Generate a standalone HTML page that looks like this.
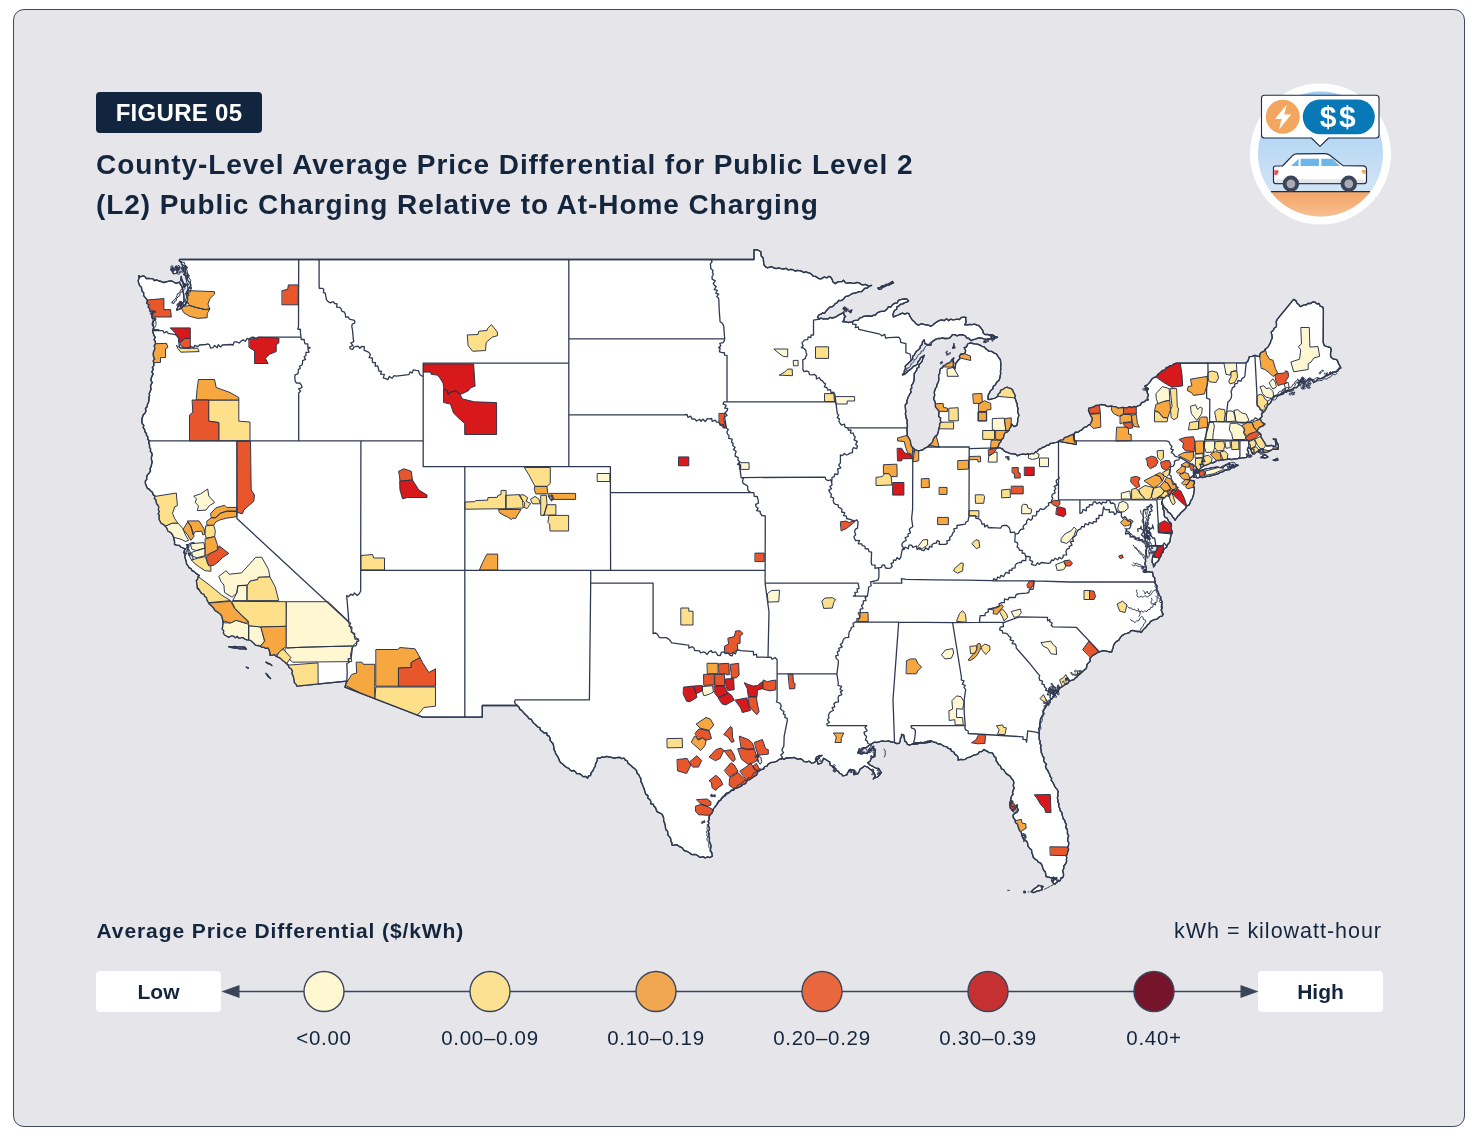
<!DOCTYPE html>
<html lang="en"><head><meta charset="utf-8"><title>Figure 05 - County-Level Average Price Differential</title>
<style>
html,body{margin:0;padding:0;background:#fff;}
body{width:1480px;height:1145px;position:relative;overflow:hidden;font-family:"Liberation Sans",Arial,Helvetica,sans-serif;color:#14263d;}
.card{position:absolute;left:13px;top:8.8px;width:1449.5px;height:1116.2px;border:1.6px solid #3f4b64;border-radius:11px;background:#e6e5ea;box-sizing:content-box;}
.badge{position:absolute;left:96px;top:92px;width:166px;height:41px;background:#11253e;border-radius:4px;color:#fff;font-weight:700;font-size:24px;line-height:42px;text-align:center;letter-spacing:0.3px;}
.title{position:absolute;left:96px;top:144.7px;margin:0;font-size:28px;line-height:40.3px;font-weight:700;color:#14263d;white-space:nowrap;letter-spacing:0.93px;}
.lgt{position:absolute;left:96.5px;top:916.7px;font-size:21px;font-weight:700;line-height:28px;white-space:nowrap;letter-spacing:0.92px;}
.note{position:absolute;left:1174px;top:916.7px;font-size:21.5px;line-height:28px;white-space:nowrap;letter-spacing:0.98px;}
.pill{position:absolute;top:971px;width:125px;height:41px;background:#fff;border-radius:4px;font-weight:700;font-size:21px;line-height:42px;text-align:center;}
.lab{position:absolute;top:1024px;width:160px;margin-left:-80px;text-align:center;font-size:20.5px;line-height:28px;white-space:nowrap;letter-spacing:0.7px;}
svg{position:absolute;left:0;top:0;}
</style></head><body>
<div class="card"></div>
<div class="badge">FIGURE 05</div>
<h1 class="title">County-Level Average Price Differential for Public Level 2<br>(L2) Public Charging Relative to At-Home Charging</h1>
<div class="lgt">Average Price Differential ($/kWh)</div>
<div class="note">kWh = kilowatt-hour</div>
<div class="pill" style="left:96px">Low</div><div class="pill" style="left:1258px">High</div>
<div class="lab" style="left:324px">&lt;0.00</div><div class="lab" style="left:490px">0.00–0.09</div><div class="lab" style="left:656px">0.10–0.19</div><div class="lab" style="left:822px">0.20–0.29</div><div class="lab" style="left:988px">0.30–0.39</div><div class="lab" style="left:1154px">0.40+</div>
<svg width="1480" height="1145" viewBox="0 0 1480 1145">
<g id="map" stroke-linejoin="round" stroke-linecap="round">
<defs><path id="usol" d="M138.7 275.6L140.3 276.9L143.1 275.9L144.8 276.5L146.1 278.5L148.5 278.4L150.2 278.7L152.8 278.7L154.3 280.5L157.0 280.0L158.9 281.0L161.2 281.5L163.2 282.5L166.1 282.0L168.6 281.2L171.8 281.0L174.1 282.3L176.6 283.3L179.5 282.0L180.3 284.2L181.6 285.9L182.4 288.0L182.8 290.7L183.4 293.2L183.8 295.8L183.9 298.3L184.1 299.9L183.8 302.2L182.2 303.1L180.6 304.7L178.6 305.7L177.6 307.4L176.6 310.0L178.9 309.4L181.8 308.2L183.3 305.9L185.9 304.3L186.7 301.6L187.6 299.6L187.5 296.9L186.5 294.5L186.9 291.9L188.0 289.3L189.5 287.5L190.7 285.4L190.4 283.3L189.1 282.1L187.6 280.2L187.0 277.6L185.3 275.6L183.8 274.5L185.5 271.2L185.6 268.2L184.9 266.0L181.8 264.7L181.3 262.4L179.3 260.8L179.5 259.5L754.0 259.5L754.0 249.7L755.9 249.9L758.2 250.2L760.9 251.7L761.0 253.8L761.2 256.1L763.1 257.7L763.4 259.6L763.6 262.1L763.8 264.5L765.5 266.8L767.7 267.9L769.7 267.0L772.0 266.7L774.0 268.0L776.3 268.6L778.6 267.9L781.1 268.6L783.3 269.0L786.1 268.3L788.2 270.0L790.4 269.3L793.0 269.7L794.9 271.0L797.0 270.5L799.4 270.6L801.4 271.0L803.6 272.5L806.1 271.9L807.7 272.6L810.0 273.2L811.8 274.5L813.3 276.3L815.5 276.4L817.7 277.9L819.6 278.9L822.0 278.5L824.1 276.9L826.8 277.9L828.9 276.3L830.9 277.4L832.2 279.6L833.0 282.0L835.2 283.6L837.4 282.1L839.4 281.6L841.9 281.7L843.5 280.2L845.6 282.8L847.7 283.2L849.8 282.6L852.4 283.3L854.5 283.3L857.1 282.3L859.1 282.8L861.2 284.5L863.3 284.9L865.4 284.4L867.8 285.6L869.5 285.8L871.6 285.4L869.0 286.4L867.2 288.0L864.6 288.3L863.3 290.1L861.8 291.5L859.3 291.7L856.7 292.7L855.3 293.0L852.7 293.4L850.4 294.8L848.7 295.8L846.2 296.3L844.6 297.6L843.0 299.7L840.9 300.6L838.7 300.5L836.9 302.8L835.2 303.5L834.3 305.1L832.2 306.8L830.4 306.8L828.3 308.5L827.3 309.7L825.8 311.3L824.5 313.3L822.5 313.0L820.8 314.2L818.8 315.0L817.5 317.0L819.2 319.1L821.1 318.2L823.7 319.1L825.8 318.7L827.9 319.1L829.9 317.4L832.5 318.2L834.4 317.3L836.7 316.4L838.3 315.2L841.0 313.9L843.5 312.6L844.0 315.1L845.6 316.5L844.2 317.7L844.0 320.4L842.5 321.7L844.3 321.9L846.5 321.9L848.1 322.5L850.3 322.2L852.5 322.2L853.6 320.6L855.7 320.4L857.9 320.2L859.9 317.9L861.4 317.7L863.3 316.5L865.4 316.1L867.8 315.9L869.9 316.0L871.5 316.3L873.7 315.2L875.5 315.1L877.1 313.0L878.8 312.2L881.0 311.3L883.1 311.3L885.1 310.8L887.1 309.0L888.5 306.7L890.9 307.0L892.4 304.8L894.4 303.4L897.3 302.9L898.3 300.4L900.7 299.6L902.6 299.2L905.1 298.9L907.0 299.1L908.6 300.9L906.8 302.2L904.6 302.6L902.8 303.9L900.5 304.2L898.7 306.1L896.9 306.9L896.6 309.3L894.5 310.5L893.5 312.6L892.9 315.1L893.5 317.0L895.8 315.8L898.3 315.0L900.7 313.9L902.5 313.1L904.8 314.2L907.3 313.1L909.1 313.9L909.7 315.9L910.9 317.9L912.4 320.1L914.3 321.7L916.3 324.2L918.5 325.2L921.1 323.8L923.1 324.1L925.7 324.8L928.2 325.0L930.9 326.3L933.2 324.8L935.1 323.0L937.3 321.6L939.6 320.4L942.4 319.8L944.1 320.8L946.5 318.8L948.6 320.6L950.6 319.2L952.9 319.9L954.8 319.6L957.4 319.1L959.3 319.6L961.1 317.7L963.9 317.1L965.9 317.3L965.7 319.7L966.1 322.1L964.8 324.8L967.6 324.9L969.4 324.4L972.1 324.7L974.6 324.2L976.8 325.1L978.8 325.5L980.1 327.0L981.5 328.8L982.9 330.7L983.2 333.1L985.0 334.6L987.6 334.3L989.1 335.1L991.0 335.8L993.6 336.3L995.4 337.2L994.4 339.0L992.7 338.9L990.5 339.2L988.5 338.8L986.2 339.3L983.9 338.8L981.7 338.1L979.8 338.0L977.3 338.2L975.5 339.2L973.3 339.6L970.9 340.6L969.1 338.5L966.7 338.0L965.3 335.9L963.2 335.0L961.0 334.6L959.3 334.8L957.1 335.8L954.8 334.6L952.5 334.7L951.1 336.5L949.0 338.4L946.5 338.5L944.8 338.5L942.2 337.9L940.3 338.5L938.2 338.5L935.4 339.4L933.0 341.1L931.5 342.5L930.9 345.0L928.6 345.0L926.5 344.1L924.7 343.7L924.3 339.8L922.5 341.6L922.0 344.5L920.3 346.2L920.0 348.2L918.0 350.1L916.3 351.4L915.3 352.9L914.3 355.1L912.6 356.2L912.7 359.0L911.1 360.5L909.1 362.5L907.0 364.4L905.2 366.1L905.6 368.4L904.4 370.5L904.1 373.0L902.4 374.8L904.7 374.3L906.9 372.6L908.0 370.9L909.7 369.9L912.0 368.1L913.3 366.3L915.3 365.7L917.4 364.2L918.0 361.5L919.4 360.5L920.4 357.9L922.6 356.6L924.3 355.3L923.4 357.5L922.6 359.2L922.2 361.3L920.5 363.1L918.9 364.8L918.9 367.2L916.9 368.3L916.7 370.1L915.3 372.2L914.3 373.5L914.2 375.5L914.2 377.3L914.1 380.0L913.5 382.1L912.8 383.8L911.4 385.4L911.8 388.0L910.4 389.4L911.1 392.1L909.8 393.9L909.1 395.5L908.2 396.9L907.4 399.2L906.7 401.3L907.1 403.0L905.3 404.7L905.3 407.1L905.5 409.2L905.8 411.8L905.3 413.9L905.9 415.8L906.2 418.4L907.3 420.4L907.0 422.7L907.5 425.6L907.0 427.9L906.9 430.4L907.3 433.2L907.0 435.6L908.4 437.2L909.5 439.3L910.4 441.3L910.7 443.9L911.1 445.9L912.8 447.8L914.8 449.6L917.4 450.6L919.8 450.7L922.6 449.9L924.5 448.4L927.4 447.0L928.8 445.6L930.5 444.1L932.2 442.5L933.0 440.8L933.6 438.7L935.1 436.6L937.3 434.7L937.9 433.2L938.6 430.4L938.8 428.1L939.9 426.0L939.5 424.6L940.8 421.9L940.3 420.1L940.7 418.0L938.6 416.4L938.8 413.7L939.1 411.4L937.8 409.7L936.1 407.7L935.4 406.2L935.5 403.8L934.7 400.9L933.6 399.4L934.0 397.2L934.7 395.2L934.2 392.2L934.9 390.3L935.4 388.5L936.6 386.8L937.0 384.3L938.2 382.5L938.8 379.9L938.7 378.1L938.6 375.1L939.7 373.4L939.7 370.9L940.6 368.6L942.2 367.9L943.4 365.7L945.7 365.0L946.6 363.6L949.0 363.1L950.8 361.7L951.8 359.8L953.8 357.9L953.1 360.1L953.8 362.9L953.4 365.0L952.8 367.0L954.8 368.8L955.3 366.1L955.9 363.1L958.0 360.5L959.8 358.7L959.4 356.1L961.1 354.0L963.1 354.2L965.3 352.7L965.6 350.3L964.2 347.6L966.6 346.9L967.6 344.0L970.5 342.9L972.9 343.5L974.8 343.8L977.3 344.1L979.9 345.1L981.9 346.3L984.3 346.9L985.6 348.6L987.3 349.7L989.2 351.4L991.6 351.4L994.4 353.1L996.5 354.0L997.8 356.1L999.0 358.0L1000.4 359.6L1000.6 361.8L1000.9 364.7L1000.6 367.0L1000.8 369.3L1000.4 371.2L1000.7 373.3L1000.3 375.2L1000.0 377.3L999.3 379.8L997.9 381.2L996.5 382.5L995.5 384.7L993.4 386.1L992.7 389.0L990.6 390.6L989.3 393.1L988.1 395.5L988.1 399.4L990.1 399.5L992.4 398.7L994.7 398.3L996.5 397.3L997.9 396.1L998.3 394.1L1000.2 392.6L1000.6 390.3L1002.8 389.5L1004.8 388.0L1007.3 387.2L1009.0 388.2L1011.2 388.7L1012.7 390.3L1013.3 392.3L1014.5 393.9L1015.1 395.6L1014.8 397.9L1015.9 400.3L1016.2 401.9L1017.2 403.7L1017.3 406.6L1018.1 408.4L1017.6 410.9L1017.9 412.7L1018.9 414.9L1018.4 416.9L1017.7 418.9L1017.7 421.4L1016.9 425.3L1014.2 426.6L1011.5 424.0L1011.1 426.6L1009.7 428.1L1009.0 430.4L1007.3 432.0L1004.8 433.0L1003.9 435.2L1003.3 438.2L1001.4 439.4L1000.6 442.1L999.0 443.4L998.5 445.9L997.3 447.8L999.8 447.9L1002.7 449.1L1003.9 450.8L1005.8 451.9L1007.9 452.5L1010.3 453.6L1012.7 453.8L1015.4 454.1L1017.3 455.8L1019.2 454.9L1021.1 454.4L1023.5 454.1L1025.4 454.5L1027.7 453.8L1029.7 454.4L1031.9 453.5L1033.9 453.8L1035.5 451.9L1037.2 451.4L1038.7 449.3L1041.1 448.6L1042.7 447.3L1044.7 446.8L1046.9 445.2L1048.7 445.3L1050.5 443.3L1052.7 443.4L1054.2 442.7L1056.9 442.4L1058.5 441.3L1060.5 440.1L1063.2 439.9L1064.5 437.6L1067.2 436.9L1069.8 435.6L1071.7 434.9L1074.3 433.8L1075.4 432.2L1078.1 432.3L1080.1 430.6L1081.5 430.2L1083.0 428.5L1084.6 427.2L1087.0 426.6L1088.5 424.9L1090.2 424.4L1091.2 422.2L1092.2 420.6L1092.2 418.0L1090.6 415.6L1089.7 413.1L1088.5 410.6L1088.9 408.2L1091.6 407.6L1093.8 406.9L1095.9 405.5L1098.4 405.3L1100.9 404.5L1102.5 404.8L1105.1 404.9L1106.5 406.3L1109.1 406.5L1110.9 405.8L1113.1 406.6L1115.6 406.7L1118.0 408.1L1120.3 407.9L1122.4 407.5L1124.8 407.6L1126.9 407.8L1129.8 406.7L1131.7 407.6L1133.9 406.5L1136.0 407.0L1138.0 405.8L1140.3 405.1L1141.6 402.6L1144.2 401.9L1145.9 400.2L1148.4 399.9L1147.2 398.0L1148.5 395.2L1147.3 392.9L1147.0 390.7L1148.4 389.0L1146.5 387.3L1144.6 386.4L1147.3 384.9L1149.0 383.1L1150.5 381.2L1151.9 379.0L1153.7 377.7L1155.9 376.9L1157.2 375.5L1158.8 373.5L1160.6 372.5L1162.4 370.5L1164.8 370.2L1166.3 367.7L1168.1 367.0L1169.9 365.8L1172.2 365.5L1173.8 363.9L1176.6 363.2L1178.6 363.1L1207.9 363.1L1246.2 362.8L1247.8 361.3L1248.6 359.2L1249.3 356.6L1252.1 356.3L1254.9 355.3L1257.4 356.1L1259.7 356.6L1259.8 354.5L1260.8 352.7L1263.9 351.4L1265.1 349.2L1266.5 348.4L1268.1 346.9L1269.1 345.0L1270.5 342.6L1270.8 340.5L1272.2 338.5L1272.1 335.9L1271.6 334.0L1271.2 332.0L1273.3 330.5L1274.1 328.3L1276.4 326.8L1276.5 324.3L1276.2 321.6L1277.4 319.1L1293.6 299.4L1295.8 300.6L1297.2 303.5L1299.0 304.8L1300.3 306.6L1302.2 305.9L1304.2 304.8L1306.5 304.8L1307.8 303.5L1310.7 303.5L1312.2 302.2L1314.7 301.9L1316.8 303.8L1319.0 303.5L1320.2 306.2L1322.8 307.2L1323.4 309.5L1323.2 342.4L1324.2 345.5L1326.3 346.4L1328.1 346.8L1330.5 347.6L1331.3 350.2L1330.6 352.5L1330.5 355.3L1331.2 357.5L1333.6 359.2L1336.7 359.7L1337.9 361.7L1338.6 363.9L1339.8 365.7L1340.9 368.0L1339.0 368.8L1337.8 371.0L1335.7 372.2L1332.8 372.2L1330.8 373.9L1328.4 374.8L1326.1 375.2L1324.6 376.8L1323.2 377.6L1321.1 378.6L1318.0 378.6L1316.5 380.7L1313.8 382.5L1312.3 380.4L1311.0 379.4L1308.6 378.6L1306.8 380.9L1304.5 382.5L1303.6 379.5L1302.4 377.3L1300.9 379.8L1299.3 381.2L1299.1 383.7L1297.9 386.1L1296.5 387.7L1293.8 387.9L1291.9 389.8L1289.9 390.3L1288.1 391.1L1285.6 391.8L1283.8 392.5L1282.6 394.2L1280.0 394.9L1277.4 395.5L1274.8 396.2L1272.8 398.1L1271.9 399.8L1271.2 401.9L1269.2 404.1L1267.0 405.8L1266.5 408.0L1265.0 410.8L1263.3 412.3L1261.4 414.0L1262.2 416.4L1260.3 418.3L1260.8 420.5L1261.8 422.2L1264.9 424.0L1262.8 425.9L1260.8 426.6L1258.7 428.0L1257.7 429.7L1256.6 431.7L1258.7 432.4L1260.8 434.3L1260.9 437.1L1261.9 438.5L1263.3 440.8L1264.4 442.3L1265.4 444.7L1267.0 446.0L1269.0 445.8L1271.1 445.4L1273.5 446.2L1275.3 446.8L1276.1 444.1L1275.5 441.9L1275.3 439.5L1273.2 439.0L1276.4 439.5L1276.4 441.5L1277.6 443.5L1278.4 446.0L1278.0 449.3L1276.0 449.4L1273.7 449.0L1271.2 449.9L1269.5 451.2L1266.7 452.2L1264.5 452.5L1262.8 450.9L1262.8 448.6L1259.8 449.6L1257.6 451.2L1255.7 452.6L1254.5 453.8L1252.4 453.8L1251.6 451.4L1250.3 448.6L1248.3 447.3L1247.3 449.6L1248.6 452.8L1247.9 455.0L1246.6 457.4L1243.6 457.8L1241.6 457.9L1238.7 458.4L1236.5 458.8L1233.8 458.9L1231.6 459.6L1229.5 458.9L1227.6 459.4L1225.4 459.5L1223.0 460.2L1220.8 459.6L1219.1 460.7L1217.1 460.2L1215.2 461.7L1212.9 462.8L1210.6 462.8L1208.8 464.0L1206.5 464.9L1204.6 465.4L1202.9 466.4L1200.8 468.0L1198.3 470.6L1196.4 472.1L1194.2 474.0L1193.1 475.8L1190.5 477.7L1189.0 479.6L1191.4 480.5L1194.2 480.9L1194.5 482.9L1193.3 485.4L1194.2 487.4L1194.4 490.0L1193.9 491.9L1193.6 494.4L1192.9 496.6L1192.1 499.1L1190.8 500.5L1190.1 502.9L1189.1 504.9L1186.5 506.1L1185.8 508.1L1184.5 509.6L1182.6 511.2L1180.6 512.9L1179.6 514.6L1177.7 516.3L1176.2 518.5L1175.0 520.3L1174.0 518.3L1172.6 517.0L1171.8 515.2L1170.2 513.3L1168.1 512.1L1167.1 510.0L1165.2 508.0L1162.9 506.8L1162.7 504.3L1161.9 501.7L1161.7 504.0L1163.9 506.2L1162.6 508.3L1164.0 510.7L1164.2 512.6L1164.2 515.5L1165.0 517.2L1167.2 518.3L1168.2 520.6L1169.8 522.2L1171.3 523.7L1171.5 525.9L1170.9 528.1L1171.7 530.4L1172.3 532.7L1171.1 534.9L1170.6 536.8L1170.3 539.0L1169.8 542.0L1168.4 543.6L1167.3 545.1L1166.6 547.3L1164.2 548.8L1163.1 550.6L1163.2 552.3L1161.4 553.6L1160.9 556.1L1159.7 557.9L1158.7 560.3L1157.4 561.7L1155.4 563.2L1154.9 565.0L1153.6 566.9L1153.4 564.6L1152.1 562.5L1152.2 560.0L1152.6 557.3L1153.6 554.8L1154.7 552.6L1156.1 551.2L1156.9 549.2L1157.7 547.0L1154.6 545.7L1152.5 545.8L1149.9 545.8L1147.3 547.0L1146.4 549.1L1146.0 552.4L1146.3 554.8L1145.8 556.9L1145.3 559.4L1145.7 561.3L1144.6 563.8L1145.6 565.6L1146.3 567.8L1146.3 570.3L1143.2 571.6L1145.3 572.3L1147.9 571.7L1150.3 572.2L1152.5 572.1L1152.9 574.5L1153.2 576.5L1154.8 578.0L1154.7 580.2L1155.2 582.0L1155.5 584.0L1157.2 586.2L1156.5 588.9L1157.7 591.0L1158.7 593.4L1159.0 595.1L1160.9 597.1L1160.6 599.2L1161.9 601.4L1162.0 603.5L1161.7 605.9L1162.3 607.6L1161.3 609.5L1161.9 612.0L1163.2 614.1L1162.3 616.1L1160.4 616.3L1158.2 617.9L1156.9 619.2L1154.8 619.5L1152.5 620.3L1150.6 621.3L1149.4 623.5L1147.7 624.6L1146.4 626.7L1144.5 628.4L1143.2 629.9L1141.1 632.5L1139.2 631.4L1137.1 631.5L1134.5 630.8L1132.8 630.4L1130.7 630.8L1129.3 632.6L1126.9 633.3L1125.2 633.7L1122.8 635.1L1121.3 636.3L1120.1 637.9L1118.6 640.4L1116.5 641.4L1115.1 642.8L1113.6 645.2L1113.2 647.4L1112.3 649.7L1111.8 651.9L1109.2 652.0L1106.8 651.1L1104.7 650.6L1101.7 651.0L1099.5 651.9L1096.8 652.9L1095.2 654.2L1092.7 655.4L1091.2 657.1L1089.8 658.5L1090.4 661.0L1088.4 662.9L1087.0 664.5L1086.7 667.0L1086.0 668.7L1084.0 670.1L1083.2 671.1L1081.3 672.8L1079.7 673.9L1078.1 675.2L1076.8 677.2L1075.3 678.0L1073.9 679.6L1071.4 680.4L1068.7 681.1L1068.2 683.2L1065.9 684.2L1063.8 685.4L1062.0 686.8L1060.0 687.8L1058.5 689.9L1057.7 692.3L1055.8 693.3L1054.1 695.2L1052.9 697.4L1051.6 699.0L1049.9 700.0L1050.0 702.7L1047.2 703.8L1046.5 705.7L1045.4 707.6L1044.3 709.2L1043.2 711.4L1044.0 713.9L1042.3 715.6L1041.4 717.4L1040.4 719.5L1040.2 721.8L1039.7 724.0L1039.9 726.6L1038.7 728.8L1039.2 730.8L1039.1 733.2L1039.2 735.4L1039.1 737.4L1039.2 739.5L1040.2 741.2L1039.9 743.6L1041.2 745.4L1040.5 747.7L1041.2 750.0L1041.2 752.4L1042.2 754.2L1042.6 756.2L1044.0 757.8L1043.6 760.7L1044.5 762.3L1046.5 764.3L1045.4 766.3L1046.3 768.8L1047.8 770.5L1048.5 772.3L1049.5 773.8L1050.2 776.5L1051.7 778.1L1051.1 780.2L1052.7 782.2L1053.7 784.0L1054.7 786.4L1055.6 787.6L1057.3 789.7L1058.3 791.7L1057.7 793.6L1057.9 796.2L1057.3 797.9L1058.0 800.1L1057.9 802.1L1059.0 803.7L1058.6 806.2L1059.7 808.2L1060.2 810.7L1061.8 812.4L1062.1 814.6L1062.6 816.4L1063.2 818.8L1064.8 820.5L1065.2 822.7L1066.4 824.3L1065.7 827.7L1067.2 829.3L1067.5 831.3L1067.4 833.6L1068.7 835.8L1067.7 838.3L1067.7 840.8L1068.7 842.4L1068.6 844.9L1067.8 847.4L1068.6 849.2L1067.7 851.7L1067.3 853.8L1066.4 855.8L1066.7 857.9L1066.4 859.3L1066.6 861.7L1065.5 864.0L1063.8 866.0L1063.8 868.5L1062.6 870.7L1063.3 872.7L1063.6 875.1L1062.8 877.5L1060.9 878.0L1060.3 880.5L1058.5 881.0L1056.3 882.6L1055.0 884.2L1052.5 882.5L1053.6 880.1L1056.0 878.5L1053.5 877.4L1051.0 877.9L1048.6 877.1L1046.1 876.6L1045.7 874.4L1045.4 872.0L1043.7 870.2L1042.8 868.2L1042.2 865.6L1040.7 863.1L1038.3 862.1L1037.4 860.5L1035.0 859.1L1033.2 857.2L1032.6 854.7L1031.8 852.6L1031.5 849.7L1029.7 848.5L1027.8 845.8L1027.7 843.5L1026.9 841.6L1025.5 840.4L1023.6 839.3L1022.5 837.1L1021.7 835.0L1021.3 832.4L1019.6 830.6L1018.7 828.0L1018.0 826.2L1017.6 824.1L1015.4 822.5L1015.2 820.2L1013.3 817.6L1013.1 815.1L1015.2 813.3L1017.2 812.1L1018.3 809.9L1017.0 807.2L1017.3 804.7L1016.1 806.8L1015.0 809.1L1013.1 811.2L1011.6 809.4L1010.2 808.0L1010.0 806.0L1009.7 803.2L1010.6 800.8L1011.0 798.2L1011.6 795.9L1013.0 794.5L1012.5 792.3L1013.3 790.1L1014.2 787.9L1013.2 785.6L1013.9 782.4L1013.1 780.1L1011.3 778.2L1010.1 776.2L1008.5 775.1L1006.2 773.6L1004.8 771.5L1003.6 769.6L1001.4 768.8L1000.5 766.1L998.5 764.5L997.6 762.6L996.0 760.5L996.3 758.2L994.1 756.2L993.3 754.2L992.0 752.7L989.1 752.7L987.9 751.7L985.7 750.6L984.0 749.5L981.8 751.5L979.6 751.7L977.7 754.2L975.3 754.8L973.4 755.2L971.4 756.4L969.6 757.1L966.7 758.0L965.3 759.4L963.2 759.7L960.6 759.3L958.0 760.1L958.4 757.8L956.9 755.5L955.0 754.4L953.6 751.9L951.4 751.0L950.7 749.0L948.2 748.3L946.7 746.7L944.3 746.4L942.5 745.3L940.3 743.8L938.2 744.1L936.1 742.5L934.2 742.4L932.0 741.2L929.5 740.9L927.7 742.4L925.1 742.0L922.5 742.9L920.5 743.1L918.0 742.7L915.4 744.1L913.2 744.3L915.6 743.7L917.3 744.2L919.2 742.8L921.8 742.8L923.9 743.1L925.9 742.8L927.5 741.1L930.1 742.3L931.7 741.2L929.3 740.8L927.8 742.6L925.4 742.5L922.9 742.7L920.8 742.4L918.5 743.5L916.3 742.6L914.4 743.2L912.7 743.8L910.0 745.0L907.3 744.4L906.5 742.2L904.6 741.2L904.6 739.3L904.0 737.0L903.7 734.9L901.5 734.5L901.5 736.7L900.4 738.6L900.2 741.2L899.2 743.3L896.2 743.5L893.7 742.2L891.3 742.1L888.6 740.9L886.6 741.3L884.0 741.2L881.7 741.0L879.0 741.8L876.8 742.5L874.2 742.2L872.4 743.4L870.5 744.5L868.8 745.5L866.5 747.5L863.0 748.0L861.6 749.9L859.0 750.5L857.8 753.0L861.0 754.0L864.0 752.5L867.0 753.5L869.5 750.5L872.0 748.5L873.5 746.8L873.7 749.0L875.3 751.0L874.8 753.5L874.2 756.3L871.0 758.5L870.3 760.9L867.7 762.8L870.0 765.0L871.8 765.8L874.2 767.2L876.1 768.3L878.6 768.3L880.1 770.8L881.3 772.6L879.4 775.0L877.5 777.0L875.1 777.7L873.2 779.0L875.3 775.8L874.5 773.6L873.5 772.0L872.0 770.4L870.0 769.1L867.7 767.2L864.5 766.0L862.0 767.9L860.0 769.3L859.0 771.8L858.0 773.7L855.9 774.4L853.7 774.7L853.8 772.6L854.7 770.4L852.5 770.0L850.4 769.3L849.2 770.6L847.5 773.0L847.0 774.7L845.2 775.3L842.8 775.8L841.6 774.0L839.6 773.4L838.4 771.4L836.3 770.4L835.7 768.5L833.1 767.3L832.0 766.0L830.0 765.0L829.8 762.1L827.7 760.7L825.3 759.2L823.5 758.3L822.7 760.6L821.5 763.0L818.0 764.0L817.4 761.2L815.5 759.5L816.4 757.3L818.5 756.0L822.0 755.5L819.6 756.7L818.7 758.4L816.5 760.0L815.5 761.6L813.6 762.8L811.5 763.1L809.1 761.2L807.0 761.8L804.3 761.7L802.5 759.9L800.5 758.6L798.5 759.1L796.0 758.5L794.0 757.4L792.4 757.8L790.3 757.7L787.9 758.0L785.8 757.9L784.5 759.4L781.9 758.4L780.0 759.0L778.3 759.9L776.6 761.4L773.8 762.2L771.4 762.4L769.6 763.3L767.9 764.4L767.0 766.2L764.6 766.6L763.7 768.9L761.3 769.7L759.1 770.8L757.7 772.1L756.6 775.1L754.5 776.1L753.0 777.3L750.9 778.8L748.8 779.9L747.3 780.2L746.1 782.7L744.8 784.0L742.4 784.7L741.5 786.1L739.5 787.0L737.4 787.9L734.9 788.3L733.5 790.4L731.6 790.4L729.5 792.0L728.0 793.0L726.1 793.4L724.6 795.5L723.3 796.8L721.8 798.5L720.6 800.4L718.7 800.8L717.9 803.0L716.3 805.3L715.1 806.9L713.5 808.6L712.8 811.1L712.0 813.1L710.1 814.7L709.2 817.0L709.3 819.4L708.2 821.5L708.8 823.1L708.2 825.5L709.3 827.7L709.5 829.4L708.2 831.3L709.1 833.9L708.5 835.4L709.5 837.8L709.3 839.7L709.5 841.8L710.4 843.7L711.1 846.1L710.6 848.4L710.3 850.3L711.8 852.5L711.9 854.1L712.4 856.2L709.9 857.5L707.8 856.9L705.1 857.8L703.0 856.7L700.6 857.4L699.1 856.8L696.8 855.0L695.1 854.4L692.2 854.7L690.6 853.6L688.9 852.5L687.1 851.4L684.9 851.0L683.4 849.7L682.0 847.7L679.5 846.7L678.1 845.6L676.4 844.6L673.6 845.3L671.8 844.8L672.0 843.0L670.8 840.9L670.7 838.8L669.9 837.1L668.1 835.4L667.7 833.2L667.6 831.3L665.8 829.5L665.4 827.2L665.3 825.2L664.4 822.7L663.6 820.5L663.7 818.3L663.1 816.4L661.8 814.0L659.5 812.8L657.3 811.9L656.2 809.9L655.5 807.5L653.9 806.3L653.3 804.2L650.8 803.8L650.8 801.3L649.8 799.5L647.9 798.2L647.9 795.6L645.7 794.1L644.9 791.5L644.4 789.7L643.5 787.3L642.7 785.3L641.9 783.1L640.6 781.2L641.0 778.6L639.8 777.2L639.0 774.9L637.1 773.3L636.5 770.5L634.4 768.4L632.8 767.5L631.3 765.7L629.6 764.5L627.8 762.9L627.3 761.0L625.1 759.9L624.0 758.1L621.7 758.6L620.1 757.5L617.7 757.3L615.5 758.0L613.6 758.2L611.5 757.3L609.3 757.0L606.4 756.4L604.2 757.3L602.1 756.9L599.8 758.2L597.3 758.1L597.3 760.7L596.4 762.0L595.4 764.8L595.1 766.5L593.8 768.4L592.8 770.9L591.1 772.8L590.5 775.5L588.5 775.9L587.6 778.3L585.9 776.3L583.0 776.6L581.5 775.0L579.2 773.6L576.7 773.6L575.5 771.8L573.8 770.5L571.7 771.0L569.9 769.7L568.8 768.3L566.6 767.5L564.4 765.8L563.0 764.3L561.5 763.3L559.7 761.5L559.1 759.5L558.2 757.4L557.2 755.8L555.6 753.6L555.3 751.6L554.2 750.2L553.8 747.6L553.5 745.4L552.8 743.2L551.4 741.9L550.1 740.3L550.1 738.3L549.1 736.1L547.1 735.3L546.8 733.0L543.8 732.9L542.3 731.2L540.4 730.1L539.9 727.6L538.2 727.2L536.6 725.7L535.1 724.2L533.4 723.0L532.1 720.9L531.4 719.4L528.9 718.6L527.8 716.8L526.2 715.3L524.6 713.7L523.2 712.1L521.7 710.3L519.8 709.3L519.1 707.2L517.2 705.5L482.3 705.5L482.3 717.2L422.7 717.2L344.9 687.1L346.8 681.2L296.8 686.1L296.0 684.1L294.3 682.4L294.2 680.2L293.7 677.8L293.0 675.4L292.0 673.5L292.5 671.1L291.0 668.7L288.9 667.3L288.3 665.3L286.4 663.5L284.8 662.0L282.7 660.5L280.6 658.4L278.7 657.4L275.9 656.1L274.4 654.5L272.1 655.4L270.2 655.3L269.8 651.9L269.1 650.1L268.1 648.0L266.0 648.3L263.8 647.4L261.9 647.2L259.8 645.9L258.2 645.5L255.6 645.4L254.2 643.5L252.9 642.5L251.5 641.0L249.1 639.9L247.1 639.9L245.0 639.2L243.1 637.6L241.5 637.7L238.9 638.2L237.2 636.3L235.4 637.7L233.5 636.1L231.4 635.8L228.9 637.2L227.1 636.3L224.7 635.0L223.4 633.0L223.8 630.7L222.3 629.1L222.6 626.8L223.0 624.7L223.2 622.9L222.8 620.7L222.3 618.2L221.8 616.4L220.6 614.2L218.8 613.0L216.9 611.6L214.7 610.3L213.8 608.3L212.7 607.1L210.9 605.3L209.1 603.8L208.0 601.7L207.1 600.2L206.5 597.6L204.6 596.2L204.1 594.3L201.7 593.5L200.1 591.3L199.5 589.9L197.4 588.4L197.2 585.7L196.8 583.0L196.3 580.7L197.7 579.2L198.2 576.6L199.4 575.5L197.5 574.4L196.0 573.4L194.2 571.6L192.0 570.6L191.1 568.7L189.0 567.7L188.1 565.8L186.5 563.9L186.4 562.0L185.5 559.1L184.9 557.3L185.0 554.7L183.9 552.6L184.5 550.1L185.3 548.8L183.2 548.0L180.7 547.0L179.3 545.4L176.4 545.1L174.5 544.4L174.6 541.6L174.0 539.3L173.4 536.6L172.4 534.5L170.9 532.6L167.9 531.0L167.2 528.9L166.2 527.0L164.8 525.8L163.4 524.3L161.4 523.5L160.1 521.2L159.3 519.8L159.1 517.4L159.5 515.3L158.2 514.0L159.4 511.5L158.4 509.7L158.9 507.2L158.2 505.5L156.7 503.8L156.2 502.0L156.0 499.5L154.4 498.7L154.9 495.9L153.1 494.7L152.6 492.6L150.7 491.0L149.2 489.2L147.4 488.3L146.4 486.1L145.5 483.9L145.3 481.2L146.8 479.3L146.6 477.3L147.4 474.9L149.1 473.2L150.5 471.1L150.0 468.5L151.2 466.7L151.5 464.7L152.2 461.8L151.5 460.0L151.4 457.3L152.2 455.0L151.7 452.7L150.4 451.5L150.6 448.9L149.5 447.3L149.6 444.9L148.7 442.7L149.3 440.8L147.7 439.2L147.8 436.6L146.3 435.1L146.6 433.6L144.9 431.7L144.5 429.2L143.1 427.6L143.9 425.4L142.3 423.7L141.8 421.1L142.0 419.0L142.5 417.0L143.3 414.7L144.9 413.3L146.0 411.0L145.4 408.4L147.2 406.8L147.4 404.5L148.4 402.6L149.0 399.8L148.8 398.0L149.6 395.3L149.2 393.7L150.4 391.1L151.0 389.0L150.5 386.7L151.1 384.3L152.3 382.5L150.9 380.3L151.3 377.9L152.0 376.1L153.1 374.1L151.9 371.9L153.3 369.3L152.4 367.7L153.9 365.5L153.7 363.1L153.3 360.6L154.7 358.9L153.5 356.4L153.3 354.3L153.5 352.0L154.5 350.1L154.9 348.1L154.2 345.9L155.6 343.8L155.2 341.2L154.1 339.7L155.1 337.2L153.9 335.3L153.2 333.1L152.6 330.7L155.1 330.1L156.8 329.8L158.9 330.2L155.6 329.8L153.0 329.4L153.8 327.1L152.4 324.6L152.6 321.7L154.4 320.1L155.7 319.1L152.0 317.8L151.6 313.9L153.1 312.5L155.7 311.8L152.8 310.9L150.1 311.3L149.8 308.7L148.1 306.9L149.0 304.7L146.6 303.2L147.6 300.6L146.0 298.4L144.4 296.6L143.6 295.2L143.7 292.9L141.9 290.8L141.6 288.6L141.4 287.2L139.5 285.4L138.7 282.9L138.2 280.8L139.1 277.9ZM1193.5 477.1L1195.4 477.4L1197.6 477.8L1200.6 477.0L1202.5 477.6L1204.2 477.2L1206.6 476.3L1208.8 476.4L1210.8 475.8L1213.4 474.9L1215.4 474.7L1218.3 473.7L1220.2 472.4L1222.5 471.9L1224.7 470.4L1227.5 469.8L1229.6 469.5L1231.8 467.5L1234.0 467.7L1235.7 466.2L1238.3 465.4L1236.8 464.9L1234.3 465.6L1231.5 466.3L1229.5 467.2L1229.4 465.2L1229.5 462.8L1228.2 463.9L1225.8 465.1L1224.1 466.2L1222.9 467.5L1220.4 467.9L1217.7 467.0L1215.0 467.4L1212.9 467.7L1211.1 467.9L1209.1 468.3L1206.7 468.6L1204.6 469.3L1202.6 469.9L1200.6 470.8L1198.7 471.9L1196.9 473.0L1195.2 474.0ZM1260.8 457.6L1263.2 455.9L1264.9 454.5L1268.0 456.9L1264.9 458.2L1263.0 457.7ZM1273.2 460.2L1275.5 459.4L1277.4 458.4L1278.0 460.2L1275.4 460.7ZM877.9 288.0L880.3 287.4L882.1 285.8L884.2 285.7L886.3 284.4L888.2 284.1L890.4 282.8L892.4 281.5L893.5 282.8L891.1 283.8L889.7 284.8L887.1 285.2L884.8 286.5L882.6 287.1L881.3 288.8L878.9 289.3ZM848.7 311.3L851.8 310.0L850.8 312.6ZM1031.2 891.6L1033.1 889.8L1034.7 888.4L1036.9 887.0L1038.6 885.3L1040.7 885.8L1043.4 886.6L1041.4 887.5L1042.4 889.7L1039.9 890.5L1037.3 890.9L1035.3 891.8L1033.2 892.6ZM1024.0 891.5L1025.2 891.5L1025.2 892.7L1024.0 892.7ZM228.6 646.7L230.7 647.4L233.3 647.8L235.9 648.0L237.9 648.4L239.8 648.9L241.7 648.8L244.3 648.8L246.3 649.3L245.2 647.5L243.4 647.0L241.2 647.2L239.0 646.7L236.8 647.2L235.1 646.3L232.5 646.8L230.8 646.6ZM266.0 662.2L267.8 663.5L270.4 664.1L271.9 665.6L270.2 664.1L268.0 663.2ZM266.0 673.4L267.6 674.9L269.2 677.2L270.6 678.6L268.1 676.5ZM246.3 667.2L248.3 668.2L247.3 667.7ZM181.3 276.3L180.7 280.2L182.4 281.6L183.9 283.8L185.9 285.4L183.8 286.7L183.2 283.8L182.8 281.5L181.6 279.0ZM171.4 268.6L173.8 269.4L176.6 269.9L177.6 272.4L176.0 273.4L173.4 273.7L172.4 271.2ZM175.5 267.3L177.7 268.2L179.7 268.6L177.6 269.9ZM953.8 343.7L953.8 345.6L954.8 347.6L952.8 348.1L953.7 345.7ZM990.2 334.6L993.1 335.1L994.7 336.3L997.5 337.2L995.3 338.2L993.7 337.9L991.3 338.5L991.0 336.5Z"/><clipPath id="us"><use href="#usol"/></clipPath></defs>
<use href="#usol" fill="#fff" stroke="#2f3a52" stroke-width="1.3"/>
<path d="M181.5 262.0L184.5 262.5L184.8 264.5L186.0 266.2L186.0 268.3L187.0 270.0L187.3 271.9L187.8 273.7L189.2 275.3L188.8 277.4L190.0 279.0L190.8 280.7L190.2 282.7L190.3 284.5L190.8 286.3L191.5 288.0L190.6 289.9L191.2 292.2L189.4 293.9L189.5 296.0L188.4 298.2L189.2 300.8L188.0 303.0L185.5 303.5L185.4 301.6L185.4 299.7L186.6 297.9L186.5 296.0L186.3 293.9L186.7 291.9L188.3 290.1L188.0 288.0L187.3 286.1L187.9 283.9L186.5 282.1L186.5 280.0L185.4 278.4L185.9 276.2L184.4 274.7L184.7 272.6L183.5 271.0L183.6 269.1L182.1 267.5L182.8 265.5L181.5 263.9L181.5 262.0ZM172.0 302.8L172.9 300.7L174.8 299.4L176.2 297.6L177.0 295.5L177.7 293.5L179.8 292.5L180.3 290.3L182.0 289.0L184.5 287.0L185.0 288.5L182.5 291.0L181.0 292.3L180.0 293.8L179.7 295.9L178.0 297.0L176.6 298.4L176.3 300.5L174.5 301.6L174.0 303.5L172.0 302.8ZM186.6 544.8L188.2 545.8L188.2 548.1L189.3 550.2L190.5 552.2L190.9 554.5L192.3 556.5L193.1 558.8L192.0 560.5L190.1 557.8L189.5 555.4L188.2 553.4L188.1 551.1L186.8 549.1L187.3 546.9L186.6 544.8ZM186.6 544.8L189.0 544.2L190.9 542.8L194.2 542.4L194.2 543.7L190.9 544.5L188.2 545.8L186.6 544.8ZM1010.9 800.7L1013.1 803.0L1013.6 805.5L1015.3 807.4L1016.1 809.2L1016.1 811.2L1014.6 813.4L1013.1 811.2L1013.6 808.2L1011.9 805.2L1010.8 803.1L1010.9 800.7ZM757.6 757.9L759.2 756.3L761.3 757.9L761.1 759.8L761.9 761.7L760.3 764.4L758.6 762.2L757.8 760.1L757.6 757.9ZM858.0 752.0L860.7 749.8L862.5 748.9L864.5 748.5L866.7 749.3L867.2 752.0L865.6 753.6L863.6 753.2L861.8 754.0L860.2 752.5L858.0 752.0Z" fill="#e6e5ea" stroke="#2f3a52" stroke-width="1"/>
<g clip-path="url(#us)"><path d="M163.5 526.7L172.5 523.1L177.9 523.1L182.8 528.5L185.5 535.0L188.7 540.4L185.5 541.5L181.2 539.3L171.8 536.8L170.2 534.0ZM194.2 496.0L200.7 493.8L207.7 489.0L208.8 496.0L214.7 502.5L209.3 505.7L206.1 510.1L197.4 510.6L198.5 505.7L195.2 502.5L196.3 499.2ZM190.9 543.7L203.9 542.6L205.0 548.0L196.3 550.7L192.0 549.1ZM192.0 552.3L196.3 550.7L205.0 548.0L205.0 555.6L197.4 557.7L193.1 556.6ZM221.6 622.7L230.6 623.0L236.0 620.3L246.9 623.6L248.9 625.0L248.8 641.5L241.6 639.3L230.6 638.1L222.4 634.5ZM248.9 625.7L261.1 627.0L264.5 641.2L259.4 647.6L256.2 647.0L248.8 641.5ZM286.8 601.7L328.1 601.7L347.7 620.3L352.5 633.1L358.6 640.6L352.5 646.0L334.2 646.4L301.0 647.3L286.8 648.0L286.1 646.7ZM286.8 648.0L301.0 647.3L334.2 646.4L352.5 646.0L350.5 654.8L351.8 661.6L292.9 662.2L290.2 660.2L286.1 653.4L284.8 650.0ZM219.1 576.2L225.9 570.8L229.3 574.2L241.5 572.9L249.6 564.1L255.7 557.3L261.8 557.3L268.5 569.5L269.9 576.9L258.4 577.3L257.7 579.6L250.3 581.0L247.5 585.0L238.1 585.7L236.7 593.2L232.0 597.2L224.5 592.5L223.9 585.0L221.1 581.7ZM238.1 585.7L246.9 585.5L246.9 600.6L232.7 600.6L236.7 593.2ZM597.6 473.5L609.9 473.5L609.9 481.5L597.6 481.5ZM774.3 349.0L787.7 349.0L787.7 356.9L783.2 356.4L777.3 352.0ZM793.6 360.4L798.1 360.4L798.1 365.8L793.9 365.8ZM835.3 396.6L854.6 396.6L854.6 401.0L847.2 401.0L847.2 404.0L836.0 404.0ZM739.8 462.7L749.1 462.7L749.1 469.4L739.8 469.4ZM918.0 546.4L923.2 539.7L927.6 539.7L927.6 544.9L922.4 548.6L919.5 549.4ZM992.7 418.6L1004.2 418.1L1006.3 434.2L992.7 429.7ZM989.0 456.2L994.5 452.3L997.1 452.0L997.1 462.1L988.6 462.1ZM1029.0 452.5L1034.0 451.2L1039.1 454.3L1038.4 458.0L1032.4 459.5L1028.7 458.3ZM1039.9 458.0L1048.5 458.0L1048.5 466.6L1039.9 466.6ZM1022.0 505.8L1023.5 504.1L1027.2 504.8L1027.7 507.8L1031.7 509.3L1030.9 513.7L1022.0 513.7ZM1061.4 538.2L1065.1 533.8L1071.1 530.8L1074.1 527.1L1076.3 529.3L1074.1 535.3L1071.1 539.7L1066.6 543.4L1061.4 542.0ZM947.4 368.8L953.4 367.4L958.5 376.3L947.7 376.3ZM1056.1 564.5L1063.6 561.6L1065.8 566.0L1063.6 569.7L1057.6 570.5ZM1011.6 611.4L1020.5 609.1L1021.2 612.8L1018.2 616.6L1014.5 617.3ZM941.7 654.5L945.4 650.0L952.8 648.5L953.6 653.0L951.4 658.2L945.4 658.9ZM1041.3 642.6L1050.9 641.1L1053.2 644.8L1056.1 647.0L1056.6 654.5L1050.9 653.7L1048.0 648.5L1043.5 646.3ZM952.2 700.4L956.6 695.9L961.1 696.7L964.1 701.9L962.6 709.3L956.6 708.6L956.6 717.5L962.6 717.5L963.3 724.9L955.1 724.9L954.8 719.7L949.2 720.5L948.9 710.8L952.2 709.3ZM767.6 593.5L771.4 590.5L779.5 590.2L778.8 601.7L768.4 602.1ZM702.8 686.6L712.6 685.7L713.4 692.0L709.3 694.2L703.9 695.8L702.6 692.0ZM1156.3 393.3L1162.4 386.6L1169.2 388.6L1169.8 400.1L1163.7 401.5L1158.3 404.2L1156.3 398.7ZM1190.8 406.2L1195.6 404.8L1197.6 409.6L1200.3 406.9L1202.3 408.2L1201.7 413.6L1198.9 417.7L1196.9 420.4L1193.5 416.3L1191.5 413.6ZM1224.0 361.4L1236.2 361.3L1236.9 370.3L1231.4 371.7L1230.1 375.1L1226.0 374.4L1225.3 370.3ZM1301.2 327.5L1309.3 327.5L1309.9 347.1L1318.0 346.5L1319.7 356.3L1313.9 358.0L1311.0 362.0L1308.2 363.8L1308.2 369.5L1293.7 371.8L1290.9 362.0L1299.5 359.2L1300.7 349.9L1298.4 346.5L1301.2 344.2ZM1269.5 382.2L1273.0 378.8L1275.3 382.2L1276.5 386.8L1273.0 389.1L1270.7 385.7ZM1260.3 386.8L1263.8 385.7L1266.1 388.6L1269.5 388.0L1273.0 391.4L1274.0 399.2L1266.1 397.2L1262.6 393.7L1261.5 390.3ZM1284.5 383.4L1288.0 382.2L1289.1 386.8L1286.9 393.1ZM1225.7 413.0L1229.0 410.8L1233.3 411.4L1234.9 416.2L1235.5 421.1L1225.7 421.7L1224.4 419.5ZM1234.4 410.3L1237.7 409.7L1242.0 413.0L1246.3 414.1L1249.0 420.6L1244.2 423.3L1237.7 422.7L1236.0 420.6ZM1230.6 423.3L1236.6 423.3L1242.0 426.0L1244.2 429.2L1243.6 433.0L1245.8 436.8L1245.2 439.5L1232.8 439.5L1231.7 433.6L1229.5 430.3ZM1207.9 422.7L1213.3 422.2L1214.4 426.0L1213.3 432.5L1212.7 439.5L1205.7 439.5L1206.2 432.5ZM1204.6 441.2L1214.4 440.9L1214.9 446.6L1213.3 452.0L1206.2 452.5L1204.6 447.7ZM1225.2 441.2L1230.1 440.9L1230.3 447.7L1226.3 448.2ZM1195.4 454.2L1203.0 453.6L1203.0 457.4L1195.4 457.9ZM1205.7 470.9L1213.8 468.8L1221.4 466.6L1223.6 469.3L1213.8 473.7L1206.2 475.3ZM1121.7 493.1L1129.8 490.9L1130.9 499.0L1121.7 499.0ZM1119.5 502.8L1123.3 501.2L1127.7 503.9L1128.2 508.2L1124.4 511.5L1120.1 512.6L1117.9 509.3Z" fill="#fff7d2" stroke="#26314a" stroke-width="0.95"/>
<path d="M176.7 345.5L180.8 348.2L197.7 348.2L199.1 351.6L180.8 352.2L178.1 348.8ZM208.8 400.0L238.8 400.0L238.8 421.2L250.0 422.0L250.0 440.8L218.8 440.8L218.8 422.5L208.8 421.2ZM153.2 496.7L176.3 493.0L177.4 505.7L174.7 506.8L172.5 513.3L174.7 518.7L177.9 523.1L172.5 523.1L163.5 526.7L157.6 519.0L157.2 512.4L156.0 505.4ZM206.1 525.8L213.7 525.2L215.3 530.7L214.7 536.6L206.1 538.2L205.0 533.9ZM192.0 559.9L197.4 558.3L205.5 556.6L207.7 564.2L210.9 566.4L210.9 571.3L205.0 570.7L198.5 566.4L194.2 563.1ZM195.9 575.2L198.5 576.8L210.3 585.7L221.8 595.2L230.6 600.6L206.8 602.9L202.5 595.5L195.3 583.3ZM232.0 601.3L286.1 601.7L286.1 626.3L261.1 627.0L248.9 625.7L248.2 620.9L242.1 615.5L235.4 608.7ZM280.0 650.7L283.4 649.4L290.9 657.5L285.7 665.0L283.0 662.7L276.5 658.2ZM286.0 665.3L318.0 662.9L318.2 685.6L297.9 687.6L292.4 679.5L290.9 671.5ZM247.5 585.0L250.3 581.0L257.7 579.6L258.4 577.3L269.9 576.9L275.3 587.1L278.7 600.6L247.5 600.6ZM361.2 555.5L372.5 554.5L373.8 558.0L384.5 558.0L384.5 570.0L361.2 570.0ZM376.2 687.0L435.5 687.0L435.5 706.2L423.8 707.5L420.0 712.5L415.4 716.0L375.1 700.5ZM467.6 334.9L478.0 334.5L478.8 331.2L487.0 330.5L487.7 328.2L491.4 324.5L497.4 332.0L497.4 335.7L492.2 337.2L486.2 342.4L485.5 350.5L472.8 351.3L468.4 346.1ZM524.7 467.5L550.3 467.5L550.3 483.4L547.0 486.4L535.1 486.4L532.2 481.2L529.2 475.3ZM541.1 495.3L546.3 495.3L547.0 503.5L544.1 515.4L541.1 515.4ZM547.8 504.7L555.9 504.7L555.9 515.1L544.1 515.1ZM549.3 515.4L568.6 515.4L568.6 531.0L550.0 531.0L549.7 524.3L548.2 522.8ZM465.3 502.0L474.9 501.7L475.7 500.5L487.6 500.2L487.9 497.6L497.2 497.3L498.0 495.3L500.9 494.6L501.2 490.4L506.1 490.4L506.1 508.7L465.3 509.2ZM506.1 495.3L519.5 494.6L522.5 500.5L523.2 508.0L506.1 508.7ZM519.5 495.3L523.2 494.6L527.7 497.6L526.2 501.3L530.7 503.5L527.0 508.7L524.0 507.2L524.7 502.8L522.5 500.5ZM530.7 499.1L535.1 496.4L538.9 499.1L540.3 503.8L532.9 503.8ZM779.5 375.0L784.7 372.0L787.7 369.1L792.2 369.1L792.5 375.3ZM815.9 346.8L828.6 346.8L828.6 358.4L815.9 358.4ZM824.9 393.6L833.8 393.6L834.5 401.5L824.9 401.5ZM876.4 477.3L882.3 476.6L884.5 473.6L889.0 473.6L891.2 476.6L892.0 485.0L876.4 485.5ZM949.2 408.2L958.1 407.7L958.4 420.8L949.2 420.8ZM939.5 422.3L953.6 422.0L953.6 429.0L937.2 428.7ZM983.1 430.5L994.5 430.5L994.5 439.4L983.1 439.4ZM1002.0 489.9L1010.1 489.2L1010.4 497.4L1002.0 497.8ZM975.6 494.8L983.4 494.8L984.6 496.6L983.7 503.3L975.9 503.3ZM969.3 510.7L978.9 510.7L978.9 517.4L974.5 515.9L969.3 515.6ZM972.2 543.4L975.9 539.7L978.9 540.5L979.7 547.2L976.7 548.6ZM955.1 568.0L961.1 562.8L963.3 563.5L962.6 570.9L957.4 573.2L953.9 570.9ZM995.6 395.9L1000.2 391.2L1006.3 385.8L1012.4 389.2L1016.4 397.7ZM1084.4 590.5L1089.6 590.5L1089.6 599.5L1084.4 599.5ZM956.6 621.0L959.5 613.6L962.5 610.6L965.5 614.3L966.2 621.8ZM999.7 611.4L1002.6 609.1L1006.4 613.6L1007.8 617.3L1004.1 621.0L1002.6 617.3ZM970.2 646.3L976.6 645.8L976.9 649.3L975.1 653.0L971.0 653.7ZM981.1 647.0L984.8 644.1L989.7 645.8L990.0 650.0L985.8 654.5L982.6 650.7ZM1059.9 679.7L1063.6 677.5L1065.8 674.5L1069.9 682.4L1076.4 679.2L1077.7 670.8L1084.9 671.6L1080.5 675.3L1071.8 680.5L1067.0 685.5L1063.2 688.0ZM1040.2 698.3L1043.5 694.6L1046.5 700.5L1048.4 705.1ZM996.8 725.7L1002.7 724.9L1003.4 727.2L1006.4 727.9L1004.9 734.6L997.5 734.3L999.0 730.1ZM822.2 600.9L824.9 598.0L832.3 597.7L835.6 599.5L833.8 602.4L832.3 608.1L824.1 608.4ZM667.3 738.6L682.2 738.3L682.5 747.6L667.5 747.8ZM681.2 608.0L688.8 608.0L688.8 611.2L693.0 611.2L693.0 625.0L681.2 625.0ZM1117.5 603.8L1122.5 601.2L1127.0 605.0L1125.0 612.5L1120.0 611.2ZM1170.5 388.6L1176.6 388.6L1177.3 406.9L1178.6 408.2L1177.3 417.7L1173.9 419.7L1171.2 417.7L1170.5 409.6L1171.9 406.9ZM1154.9 411.6L1158.3 412.0L1163.1 417.7L1167.8 418.0L1167.1 421.8L1154.9 421.8ZM1208.4 372.3L1211.8 371.0L1217.2 372.3L1218.6 377.8L1215.9 382.5L1209.1 381.8L1207.7 377.1ZM1190.1 422.4L1198.7 421.1L1198.7 429.2L1188.8 429.9ZM1231.4 371.7L1236.9 371.0L1237.5 377.1L1234.8 382.5L1230.1 383.9L1228.7 381.1L1230.8 377.1ZM1257.4 395.5L1260.3 394.3L1263.2 395.5L1264.9 398.9L1267.2 400.7L1268.3 407.2L1263.5 414.3L1259.2 407.6L1256.9 403.5ZM1214.9 411.4L1218.7 408.7L1224.7 409.7L1225.2 414.1L1224.1 421.7L1216.5 421.7L1215.5 416.2ZM1255.0 439.0L1262.4 435.6L1261.5 437.4L1266.3 442.7L1266.9 443.9L1262.1 450.5L1257.7 445.5ZM1249.0 441.7L1253.9 439.5L1256.1 443.3L1255.0 446.6L1249.0 449.5ZM1249.2 449.9L1256.1 446.6L1260.1 451.4L1256.6 452.0L1256.2 454.3ZM1215.5 441.7L1223.6 441.2L1224.7 445.5L1223.6 450.4L1217.1 450.9L1214.9 447.7ZM1231.7 440.9L1238.7 440.9L1239.0 449.3L1232.2 449.6ZM1220.3 452.0L1224.7 450.9L1227.9 454.2L1227.0 461.0L1224.3 461.5ZM1201.4 461.7L1204.1 456.3L1208.4 455.2L1212.2 458.5L1210.7 464.4L1205.7 466.8ZM1196.0 458.5L1201.9 457.9L1203.8 467.7L1200.0 471.1L1195.4 467.2ZM1132.0 489.3L1136.3 488.2L1140.7 494.2L1145.0 499.0L1132.0 499.4ZM1139.0 489.3L1145.0 485.5L1153.7 487.7L1151.5 496.3L1149.3 499.4L1145.5 499.4L1140.7 494.2ZM1153.7 488.2L1160.2 486.6L1164.5 490.9L1162.3 494.2L1158.0 497.4L1152.6 499.4L1151.5 496.3ZM1162.9 472.5L1166.6 470.3L1170.4 469.2L1169.9 473.6L1166.6 476.8L1164.5 476.3ZM1158.0 497.4L1162.3 494.2L1164.5 490.9L1166.6 491.4L1168.3 494.2L1163.4 498.5L1159.1 499.4ZM1157.4 450.8L1163.4 450.3L1163.4 457.9L1160.7 460.6L1158.0 457.9ZM1168.8 494.2L1172.1 493.1L1175.3 502.8L1173.1 505.0L1171.0 501.7Z" fill="#fee08b" stroke="#26314a" stroke-width="0.95"/>
<path d="M185.8 290.5L214.6 291.7L214.6 294.0L209.9 298.7L207.9 304.2L209.9 308.9L205.2 309.6L196.3 307.5L189.6 305.5L186.1 299.1ZM181.0 306.8L189.6 305.5L196.3 307.5L205.2 309.6L209.9 308.9L207.2 313.6L207.2 317.7L197.7 318.4L189.6 316.3L184.2 313.0ZM153.9 343.7L166.6 343.4L167.9 347.5L165.5 348.8L165.5 357.6L160.5 357.6L160.5 362.4L152.0 362.8ZM198.8 379.5L214.5 379.5L216.2 387.5L230.0 392.5L238.8 397.5L238.8 400.0L196.2 400.0L197.0 390.0ZM183.3 529.0L187.7 522.0L190.9 526.3L194.2 536.1L190.9 540.4L187.7 535.0ZM187.7 520.9L199.0 520.9L203.9 528.5L205.0 533.9L202.8 535.0L201.7 531.2L195.2 531.7L193.1 535.0L190.9 526.3ZM210.9 513.3L215.8 507.9L224.5 505.2L226.6 507.4L236.9 507.4L236.9 511.2L226.6 511.2L220.2 513.3L215.8 517.7L211.5 517.7ZM207.2 520.9L211.5 517.7L215.8 517.7L220.2 513.3L226.6 511.2L236.9 511.2L236.9 516.6L226.6 518.2L220.2 519.8L215.8 522.0L213.7 525.2L207.2 525.2ZM205.5 538.8L214.7 536.6L217.4 544.7L217.4 550.1L210.4 553.4L205.5 555.6ZM207.0 603.2L230.6 601.3L234.7 608.7L241.5 615.5L247.5 620.9L246.9 623.6L236.0 620.3L230.6 623.0L221.1 620.2L219.1 614.2L215.0 612.3ZM261.1 627.0L286.1 626.3L286.1 646.7L282.1 649.4L274.4 656.9L271.0 656.9L268.5 649.4L262.9 648.9L259.4 647.6L264.5 641.2ZM356.5 662.2L362.0 662.2L363.3 664.3L374.8 664.3L374.7 700.3L345.0 685.2L351.8 674.4L356.3 673.1ZM376.2 649.5L397.5 649.5L400.0 647.5L415.0 648.8L420.0 657.5L411.2 662.5L411.2 667.5L398.8 668.0L398.8 686.2L376.2 686.2ZM535.1 486.4L547.0 486.4L547.8 493.9L535.9 493.9L534.4 490.1ZM549.3 493.4L575.6 493.4L575.6 499.4L550.0 499.4L548.5 496.1ZM498.7 509.5L521.0 509.5L517.3 515.4L515.8 518.4L512.8 518.1L511.4 519.6L507.6 516.9L503.9 515.4L500.2 513.2ZM487.3 554.1L497.7 554.1L497.7 570.1L479.4 570.1L482.4 563.0ZM897.9 437.9L908.5 434.9L912.2 442.7L914.0 446.7L915.6 448.2L912.0 454.3L907.6 452.8L905.3 446.1L904.3 441.6L897.9 440.9ZM915.5 448.0L918.8 449.1L918.7 460.9L913.2 461.7ZM883.8 464.7L896.9 464.2L897.2 476.6L891.2 476.6L889.0 473.6L883.8 473.6ZM921.7 478.8L929.1 478.5L929.4 487.4L921.7 487.7ZM939.5 487.4L947.0 487.4L947.0 494.4L939.5 494.4ZM938.0 517.4L948.4 517.4L948.4 524.6L938.0 524.6ZM958.1 460.6L968.5 460.2L968.5 469.1L958.1 469.6ZM928.1 444.1L932.6 437.5L936.2 433.6L935.8 434.1L939.2 447.3L927.4 444.7ZM978.9 412.2L986.4 412.2L986.4 420.8L978.9 420.8ZM1004.9 418.6L1011.3 417.8L1011.0 425.5L1010.7 430.4L1006.6 434.0ZM996.0 430.5L1010.7 430.4L1005.7 434.2L1002.4 440.6L996.0 439.4ZM991.6 440.1L1002.9 440.1L1000.3 445.1L998.9 447.5L990.8 449.1ZM969.7 456.5L980.4 456.2L980.7 461.7L978.2 462.1L977.4 459.5L969.7 459.8ZM1056.7 440.6L1064.6 435.9L1073.2 432.5L1074.1 440.1L1076.3 440.4L1076.3 444.3L1056.1 441.0ZM958.2 356.7L962.3 354.0L962.3 352.8L970.4 356.0L970.7 360.5L958.6 357.6ZM942.7 366.8L946.9 361.9L952.1 358.7L953.5 364.8L955.5 367.3L941.0 366.8ZM973.1 393.9L981.9 393.5L982.3 402.0L979.9 403.4L973.8 403.4ZM978.8 404.1L982.3 402.0L984.6 400.7L990.7 403.4L991.0 409.5L986.7 410.1L986.7 411.5L978.8 411.5ZM978.3 411.9L986.7 411.9L986.7 421.0L978.3 421.0ZM935.5 403.8L943.1 403.4L943.6 407.4L947.4 408.1L947.7 411.5L937.5 411.3L935.5 409.5ZM989.3 609.1L994.5 607.6L998.9 606.1L1001.9 604.7L1003.4 606.9L998.9 611.4L997.4 614.3L993.0 613.6L993.7 610.6ZM977.4 644.1L979.9 643.3L981.1 647.0L979.6 650.7L977.4 654.5L975.1 657.4L970.7 660.4L968.0 660.1L972.2 655.2L975.1 653.0L976.9 649.3ZM906.8 660.7L910.5 658.9L915.7 658.9L917.9 663.4L921.6 667.1L917.9 670.8L916.4 673.8L906.5 673.8ZM1013.9 821.1L1021.3 819.3L1022.0 823.0L1025.7 823.8L1026.2 828.2L1019.1 832.4L1016.9 827.6ZM858.3 612.8L868.0 612.4L868.3 621.5L857.6 621.5L859.8 617.3ZM707.4 663.3L718.0 663.3L718.2 673.6L707.7 673.8ZM696.3 723.9L706.1 717.4L710.4 719.1L713.7 725.0L709.3 730.4L700.7 728.3ZM691.4 741.8L694.7 735.9L698.5 740.2L702.3 738.0L706.1 740.7L705.0 745.6L700.7 750.5L696.3 746.7ZM833.8 733.0L843.8 733.0L841.2 738.8L841.2 742.5L835.0 742.5L836.2 737.5ZM1156.3 404.2L1163.7 401.5L1169.8 400.4L1170.5 409.6L1169.2 413.6L1167.8 417.7L1163.1 417.4L1158.3 411.6L1154.9 410.9ZM1089.3 414.3L1100.4 413.6L1100.8 427.2L1093.3 428.5L1088.6 423.8L1092.0 419.1ZM1056.5 440.7L1072.7 432.8L1074.4 442.1L1076.4 442.3L1076.4 444.8L1056.1 441.0ZM1111.8 404.5L1123.2 405.9L1123.8 413.6L1119.1 416.3L1113.6 413.6L1111.6 410.3ZM1120.4 416.3L1123.8 414.3L1131.2 414.7L1131.9 421.8L1123.8 422.4L1120.4 423.8ZM1131.9 415.0L1136.4 414.7L1137.3 423.1L1139.4 427.2L1134.0 426.5L1132.3 422.4ZM1117.0 427.2L1127.2 427.2L1128.5 429.2L1128.5 434.0L1131.2 434.6L1131.2 440.7L1116.3 441.0ZM1190.8 379.1L1207.1 376.4L1207.7 383.9L1205.7 389.3L1204.4 394.0L1193.5 395.4L1191.5 392.7L1187.4 390.6L1188.1 386.6L1191.5 385.9ZM1199.6 418.4L1201.7 417.0L1207.1 417.0L1207.7 427.2L1198.9 428.5ZM1259.7 354.6L1264.9 347.6L1266.7 354.6L1269.5 359.2L1273.0 360.3L1275.3 368.4L1277.6 373.0L1273.0 376.5L1269.5 373.0L1264.9 369.5L1261.5 368.4ZM1252.3 422.2L1261.9 418.2L1262.5 420.3L1263.7 425.5L1259.3 428.2L1258.0 432.5L1253.9 427.1ZM1242.0 425.5L1249.0 421.7L1252.3 422.7L1253.9 427.6L1258.1 432.2L1249.6 433.6L1246.3 436.3L1244.2 432.5L1244.7 428.7ZM1261.2 449.2L1272.0 451.2L1273.9 445.8L1278.3 448.2L1272.3 450.4L1266.1 453.9ZM1210.6 454.2L1215.5 451.4L1220.3 453.1L1221.6 461.5L1217.7 462.0L1213.3 457.4ZM1195.4 441.2L1203.5 440.9L1203.5 453.1L1196.0 453.6ZM1144.4 480.6L1155.8 474.7L1160.2 476.8L1162.3 481.2L1158.0 485.5L1153.7 487.7L1149.3 484.4ZM1155.8 474.7L1160.2 472.5L1164.5 476.3L1162.3 481.2L1160.2 476.8ZM1160.2 486.0L1164.5 481.2L1167.7 483.3L1171.0 488.7L1166.6 490.9L1164.5 490.9ZM1164.5 481.2L1166.6 477.4L1171.0 479.0L1175.3 484.4L1177.5 487.7L1173.1 489.8L1171.0 488.7L1167.7 483.3ZM1176.4 471.4L1179.6 468.7L1182.4 466.0L1185.6 467.1L1185.1 471.4L1181.8 473.6L1178.0 473.0ZM1179.6 474.7L1184.5 472.5L1188.3 473.6L1190.4 480.3L1182.9 479.0ZM1181.8 482.8L1185.6 479.5L1191.2 479.3L1191.3 478.7L1187.2 484.4L1184.0 484.9ZM1185.6 486.6L1191.6 478.8L1195.5 484.4L1195.5 486.6L1188.3 488.7ZM1171.0 490.9L1174.2 489.3L1176.4 492.0L1173.1 493.6ZM1178.6 455.2L1184.0 452.5L1193.7 451.9L1193.2 458.4L1190.5 461.7L1184.0 458.4ZM1181.3 464.9L1185.6 462.2L1189.4 463.3L1188.9 467.1L1185.6 467.1L1182.4 466.0ZM1120.6 522.3L1124.4 518.5L1127.7 520.7L1129.8 519.1L1133.1 521.2L1130.9 524.5L1127.7 525.6L1124.4 526.1Z" fill="#f6a73f" stroke="#26314a" stroke-width="0.95"/>
<path d="M145.3 300.2L163.9 298.5L163.9 309.6L170.6 309.6L171.3 317.0L151.7 317.0L148.4 309.8ZM180.1 342.8L184.2 338.7L190.3 338.0L190.3 348.2L184.2 347.5L180.8 345.5ZM282.3 290.6L287.7 289.3L288.4 284.9L298.3 284.9L298.3 304.8L282.3 304.8ZM192.5 400.0L208.8 400.0L208.8 421.2L218.8 422.5L218.8 440.8L189.5 440.8L189.5 415.0L192.5 412.5ZM237.5 441.2L250.5 441.2L251.2 490.0L254.5 495.0L253.8 501.2L243.8 510.0L242.5 513.8L237.5 512.5ZM398.8 471.2L403.8 468.8L411.2 471.2L412.5 480.0L400.0 481.2L399.5 476.2ZM206.6 556.6L210.4 553.4L217.4 550.1L219.1 545.8L228.8 553.4L222.3 557.7L218.0 562.1L213.7 565.3L209.3 565.9ZM398.8 668.0L411.2 667.5L411.2 662.5L420.0 657.5L422.5 662.5L428.8 672.5L435.5 668.8L435.5 686.2L398.8 686.2ZM719.3 413.4L725.3 413.4L723.8 419.6L726.0 427.0L723.0 427.8L719.3 422.6ZM988.6 449.8L998.9 447.5L998.3 446.2L993.8 452.8L989.0 455.7ZM1012.4 467.6L1018.3 467.6L1018.3 472.8L1020.2 473.1L1020.2 478.0L1014.6 478.0L1014.3 473.6L1012.4 472.8ZM1011.6 486.2L1023.2 486.2L1023.2 493.9L1011.6 493.9ZM1051.0 501.8L1054.7 500.3L1059.9 500.8L1059.9 504.1L1057.7 507.0L1053.2 504.8ZM1064.3 560.8L1069.5 560.1L1072.5 563.0L1070.3 566.0L1066.6 566.0ZM1027.2 584.6L1029.4 580.9L1033.9 580.9L1033.1 585.3L1030.9 588.3L1027.9 587.6ZM1089.9 590.5L1094.1 591.3L1095.5 596.5L1094.1 599.5L1089.9 599.5ZM1082.9 649.3L1088.9 641.1L1100.0 653.4L1091.3 658.1ZM978.9 734.6L985.6 734.6L984.9 743.5L977.4 743.8L971.5 742.8L975.9 739.8ZM1009.4 800.0L1009.3 798.7L1017.5 807.6L1011.2 811.3L1010.1 807.4ZM1050.3 846.8L1069.6 847.0L1068.2 855.7L1050.6 855.3ZM755.3 553.1L764.2 553.1L764.2 561.6L755.3 561.6ZM728.2 638.1L734.2 636.6L735.7 631.0L740.1 630.7L743.1 633.6L740.1 635.9L740.1 643.3L737.2 644.1L737.9 650.0L729.7 654.5L724.5 651.5L724.5 646.3L728.2 644.1ZM788.4 674.1L792.9 674.1L793.4 682.7L795.1 683.4L794.8 688.6L789.9 688.9ZM719.1 663.8L728.8 663.3L729.4 674.7L726.1 674.7L726.1 673.8L719.6 673.8ZM730.4 664.4L738.6 663.3L739.1 674.7L736.4 677.9L731.5 677.9L731.0 672.5ZM703.9 674.4L714.2 674.1L714.5 684.9L704.1 685.3ZM715.3 674.4L724.5 674.4L724.7 685.5L715.6 685.5ZM748.3 696.9L756.4 696.9L757.5 705.0L759.1 711.5L757.0 714.7L752.6 710.4L749.4 706.1ZM763.5 680.1L767.3 681.7L771.6 680.6L775.9 680.1L775.9 689.8L770.0 690.9L763.5 689.3ZM695.2 733.1L699.0 728.8L709.3 731.0L711.5 738.6L706.1 740.2L702.3 737.5L698.5 739.6ZM723.9 734.2L730.4 726.6L732.1 727.7L732.6 737.5L734.2 741.3L731.5 742.4L728.3 737.5ZM677.4 759.5L687.1 758.4L690.9 764.9L686.6 773.6L677.9 770.9ZM689.8 761.7L696.9 755.7L701.7 760.6L698.5 767.1L693.1 767.1ZM709.3 756.8L715.8 749.7L720.7 748.1L723.9 750.3L720.1 758.4L715.8 760.6ZM724.5 750.8L731.0 749.7L734.2 755.2L735.3 759.5L733.1 761.7L729.9 758.4L726.6 754.1ZM738.0 748.7L741.3 748.1L747.2 749.7L754.3 749.2L756.4 755.2L758.1 759.5L753.7 762.7L748.3 764.4L741.8 759.5ZM754.8 742.2L762.4 739.5L765.6 748.7L768.3 749.7L768.3 754.1L758.1 755.2L755.9 748.7ZM739.6 736.2L748.3 739.5L752.6 743.2L754.3 748.7L747.2 749.2L741.3 747.6ZM724.5 770.3L731.0 762.7L734.2 764.9L738.0 771.4L729.9 776.8ZM740.2 770.9L746.7 766.5L750.5 763.3L753.7 767.1L759.1 773.1L750.4 780.9L748.2 782.1ZM753.2 766.0L756.4 763.3L760.9 771.7L759.2 772.7L754.3 769.2ZM729.9 777.9L738.0 772.5L747.9 782.6L738.9 789.0L735.7 790.0L729.4 785.5ZM709.3 780.6L715.8 775.2L720.1 779.0L722.9 784.4L718.0 787.7L715.8 790.4L712.0 787.7L711.5 782.8ZM696.9 799.6L707.2 799.0L710.9 801.7L710.9 805.0L707.7 806.1L700.7 803.9ZM695.8 806.1L700.7 804.4L707.7 806.6L714.6 810.6L711.5 815.5L698.5 814.7L695.8 811.5ZM840.7 521.8L845.9 521.1L849.6 522.6L853.3 519.9L854.8 521.8L851.1 524.8L846.6 528.5L841.4 530.7ZM1088.6 408.5L1099.2 403.4L1100.4 413.0L1089.3 413.6ZM1123.9 406.0L1136.1 405.4L1136.4 413.9L1124.2 413.9ZM1123.8 423.1L1131.9 422.2L1132.9 427.9L1128.5 428.5L1124.2 425.8ZM1179.3 439.4L1185.4 437.3L1193.5 436.7L1194.9 442.1L1194.2 451.6L1185.4 450.9L1182.7 447.5L1183.4 443.4ZM1189.5 465.1L1192.9 463.7L1194.2 469.2L1191.5 470.5ZM1275.3 375.3L1277.6 373.6L1284.5 373.0L1285.7 370.7L1288.0 371.8L1288.6 376.5L1285.7 381.1L1286.3 383.4L1281.1 384.5L1278.2 385.7L1275.9 381.1ZM1246.3 436.8L1249.6 434.1L1257.9 430.8L1261.3 432.6L1255.0 438.5L1249.0 440.6L1246.3 439.5ZM1199.7 470.9L1204.1 470.2L1204.6 475.8L1200.0 476.4ZM1131.4 477.4L1136.3 476.3L1140.1 477.9L1138.5 481.7L1139.6 486.6L1136.3 487.7L1133.1 484.4L1130.9 482.2ZM1167.7 491.4L1171.0 489.8L1172.1 492.0L1169.4 494.7ZM1146.1 458.4L1151.5 456.2L1155.8 457.3L1158.0 461.7L1155.8 466.0L1150.4 468.7L1147.7 466.0L1147.2 461.7ZM1160.7 462.2L1165.6 460.6L1169.4 460.6L1171.0 464.9L1168.8 468.2L1165.6 470.3L1162.3 468.2ZM1119.0 555.9L1122.2 554.8L1123.3 557.5L1120.6 558.6Z" fill="#e8562b" stroke="#26314a" stroke-width="0.95"/>
<path d="M170.6 327.9L190.3 327.9L190.3 338.0L184.2 338.7L180.1 342.8L178.1 336.7L174.7 332.6ZM249.2 339.4L260.0 337.3L278.9 338.0L278.9 342.8L276.2 344.8L276.2 351.6L269.5 354.3L265.4 358.3L268.1 363.5L254.6 363.5L254.6 350.9L249.2 347.5ZM400.0 481.2L412.5 480.0L418.8 490.0L427.0 495.0L427.0 497.5L407.5 497.5L402.5 498.8L400.0 490.0ZM423.8 363.9L473.6 363.9L475.1 386.2L470.6 387.7L468.4 390.7L463.9 392.9L460.2 394.4L455.7 390.7L450.5 392.2L448.3 394.4L447.3 390.7L443.9 389.2L443.1 383.2L439.4 377.3L437.2 375.1L431.2 374.3L430.5 372.1L423.8 372.1ZM443.9 389.2L447.3 390.7L448.3 394.4L450.5 392.2L455.7 390.7L460.2 394.4L462.4 398.9L474.3 401.8L496.6 402.6L496.6 434.5L464.7 434.5L464.7 423.4L459.5 418.9L453.5 413.0L450.5 404.1L443.9 402.6ZM897.5 448.3L901.6 448.3L904.6 452.8L911.3 455.0L912.0 458.7L902.4 458.7L901.6 460.9L897.9 460.9ZM893.0 482.5L903.9 482.5L903.9 495.1L893.0 495.1ZM1024.7 467.2L1034.2 467.2L1034.2 475.5L1024.7 475.5ZM1057.0 507.8L1059.9 507.0L1065.1 508.5L1065.9 514.5L1063.6 516.7L1056.2 514.5ZM1034.7 794.8L1050.3 794.5L1051.0 812.6L1045.8 812.6L1044.3 808.2L1040.6 804.5L1037.6 799.3ZM725.6 679.0L733.7 678.5L734.2 689.8L727.7 690.4L726.1 686.6ZM714.2 686.0L724.5 686.0L726.6 690.9L728.3 693.1L718.0 697.4L714.7 693.1ZM718.5 697.9L728.3 693.1L731.5 695.2L734.2 700.1L725.6 705.0L722.3 703.9ZM683.9 687.1L693.6 686.0L694.2 688.2L696.3 694.2L696.9 697.4L689.8 701.7L686.6 701.2L683.3 694.2ZM694.2 686.0L702.3 685.5L702.0 690.9L699.0 692.5L696.3 693.6L694.2 688.2ZM735.3 700.1L746.7 697.9L749.4 707.2L750.5 710.4L742.4 712.6L740.7 708.2ZM744.5 682.8L748.3 684.4L753.2 686.0L757.5 685.5L760.2 683.3L762.9 681.7L762.9 688.7L757.5 689.8L757.0 696.9L748.3 696.3L747.2 688.7ZM678.9 456.9L688.8 456.9L688.8 465.8L678.9 465.8ZM1154.8 375.8L1175.4 361.8L1180.0 361.5L1182.0 374.4L1182.7 385.9L1171.9 387.2L1163.7 382.5ZM1173.1 493.1L1177.5 489.3L1180.7 490.9L1184.0 497.4L1187.4 507.5L1181.8 502.8L1177.5 499.0L1174.8 496.3ZM1158.5 523.9L1164.5 520.7L1173.0 525.4L1171.5 529.9L1173.3 534.3L1158.5 532.6ZM1156.2 547.3L1163.4 545.1L1163.2 554.3L1161.1 558.7L1151.3 556.4L1154.7 550.4Z" fill="#d7191c" stroke="#26314a" stroke-width="0.95"/>
</g>
<use href="#usol" fill="none" stroke="#2f3a52" stroke-width="1.3"/>
<path d="M298.7 259.5L298.5 326.3L297.8 329.0L300.5 329.5L300.4 332.0L301.0 337.2L301.3 339.5L304.1 339.4L304.5 341.9L305.0 343.8L307.8 343.9L307.7 347.2L310.2 347.6L307.8 348.8L309.1 352.2L305.9 352.5L306.0 355.3L304.1 356.9L305.5 359.4L302.6 360.6L302.5 363.1L302.1 365.0L299.5 366.0L300.3 368.2L298.3 369.6L298.3 371.7L298.0 373.7L294.9 375.1L294.8 377.3L295.2 381.2L296.5 383.2L299.7 383.0L301.4 385.1L302.1 387.5L298.6 388.8L300.7 391.1L298.7 392.9L298.7 440.8M301.0 337.2L258.1 337.2L256.6 339.0L253.8 337.2L251.1 337.5L249.4 339.3L247.2 338.4L245.2 341.3L243.1 339.8L241.1 341.1L239.2 343.0L236.4 341.8L234.1 341.9L233.1 345.0L230.7 344.5L222.3 345.0L220.6 347.1L218.3 344.7L217.2 347.8L214.6 345.5L213.0 347.6L210.6 348.2L209.6 345.1L208.1 343.9L205.7 344.5L199.4 345.0L197.8 346.7L194.7 345.4L193.8 347.8L190.8 346.4L189.0 348.3L179.7 347.6L178.6 341.1L178.9 338.7L177.4 336.5L175.5 334.6L168.2 333.3L166.6 331.5L164.2 333.0L163.0 330.7L153.7 330.7M149.3 440.8L423.2 440.8M236.9 440.8L236.9 518.5L348.7 622.1M360.7 570.3L360.7 591.0L359.3 593.6L357.2 595.5L354.4 592.9L352.8 595.4L350.6 594.1L348.8 596.7L346.6 595.7L347.2 601.4L347.8 609.1L348.7 619.5L348.7 622.1L350.6 623.2L349.1 626.1L351.8 627.0L351.8 629.4L351.2 631.9L354.7 633.7L354.5 636.3L355.0 639.0L358.3 638.8L358.8 641.0L356.8 641.2L356.6 644.6L355.6 645.8L353.2 646.0L352.4 648.0L351.4 655.8L350.9 658.4L348.1 659.0L349.2 662.5L346.8 663.5L347.2 672.6L346.8 681.2M360.9 440.8L360.7 570.3M319.1 259.5L319.1 285.9L319.4 288.4L322.3 288.3L323.8 289.3L323.4 292.7L325.3 293.2L326.4 299.6L328.1 301.7L330.4 302.9L333.2 301.7L334.7 303.5L337.1 303.8L336.6 307.2L339.8 307.4L341.1 308.9L342.0 311.3L344.1 311.9L345.3 313.8L345.6 317.1L348.3 316.9L349.3 319.1L354.5 320.4L354.9 323.0L352.2 324.2L351.8 326.8L352.4 329.4L353.4 339.8L353.8 341.6L350.8 343.1L353.0 345.4L349.6 347.0L350.3 348.9L352.8 349.4L353.8 347.0L355.6 346.6L357.7 346.0L359.9 348.2L361.8 346.3L364.3 346.7L364.2 350.4L367.0 351.4L369.0 352.5L370.4 354.6L369.1 357.7L372.6 358.2L372.2 360.5L372.9 362.7L375.5 362.7L375.1 366.2L377.7 366.0L378.4 368.3L378.8 371.0L381.5 371.3L380.6 374.2L384.4 374.4L383.2 377.9L385.7 378.6L387.8 379.6L389.4 376.4L392.0 378.3L394.1 375.6L396.1 376.1L406.5 374.8L409.0 374.6L410.1 371.9L412.2 373.0L413.3 369.9L415.9 370.4L418.3 370.6L419.2 372.7L420.0 374.8L423.2 376.8M423.2 363.1L423.2 466.7L464.8 466.7M423.2 363.1L568.8 363.1M568.8 259.5L568.8 466.7M464.8 466.7L610.4 466.7L610.4 492.6L610.6 570.3M464.8 466.7L464.8 717.2M360.7 570.3L765.1 570.3M568.8 338.8L724.7 338.8M568.8 414.9L684.3 414.9L687.0 414.5L687.9 417.3L690.7 416.2L692.2 419.1L694.7 418.8L696.5 421.0L699.7 419.3L701.0 421.4L702.9 419.1L705.2 421.5L707.3 418.6L709.3 418.8L711.7 418.5L712.2 421.3L715.3 420.1L716.6 422.2L718.8 422.2L720.2 425.3L723.5 424.4L724.0 427.8L726.4 427.9M610.4 492.6L750.9 492.6M710.7 259.5L712.2 261.3L710.3 264.1L710.7 265.9L710.7 268.5L713.0 270.5L712.4 272.4L713.4 274.3L712.0 276.5L712.1 279.1L715.3 280.9L713.2 283.5L714.5 285.4L716.2 286.6L714.2 289.5L717.4 290.3L715.8 293.2L718.7 294.2L716.7 296.6L718.7 298.4L719.3 311.3L720.1 321.7L722.3 323.3L723.2 324.9L723.9 326.7L723.9 329.4L724.7 338.8L724.2 340.8L723.1 342.7L719.8 343.3L720.7 346.0L718.7 347.6L720.2 348.6L719.3 351.6L721.8 352.7L724.4 352.6L724.5 355.1L727.0 355.3L727.0 401.9L723.9 401.9L723.0 403.9L726.3 405.3L724.7 408.1L727.7 408.4L727.0 411.0L725.1 412.6L727.1 415.5L724.7 416.7L724.9 418.8L726.4 427.9M726.4 427.9L728.3 429.4L726.9 432.0L727.6 434.1L729.1 435.6L728.7 438.4L732.2 439.1L731.5 442.2L733.2 443.4L732.7 445.5L735.2 447.4L733.5 449.5L736.2 451.6L735.3 453.8L735.1 456.2L738.3 457.7L737.8 460.0L739.7 461.7L737.5 464.3L740.6 465.0L740.7 467.3L740.1 469.3L741.1 477.6L743.3 478.3L742.5 481.4L743.5 483.7L745.7 484.8L747.7 486.2L747.7 489.5L748.9 491.4L750.9 492.6L753.8 492.7L754.2 496.3L757.2 496.5L758.2 500.4L758.5 503.2L755.6 504.4L756.1 506.8L758.2 508.2L756.7 510.7L760.2 511.4L760.3 513.3L762.0 515.5L765.3 515.9L765.1 583.2M727.0 401.9L835.8 401.9M741.1 477.6L825.2 477.1L825.8 479.3L827.7 480.6L830.8 479.9L831.7 482.8M819.2 319.1L813.5 320.1L813.5 335.1L811.1 335.0L810.8 337.6L808.2 336.8L807.6 339.7L805.0 339.8L803.3 341.4L802.0 342.9L803.1 345.7L801.3 347.6L803.7 348.2L805.8 350.2L806.1 352.7L806.9 354.7L805.6 356.9L805.5 358.4L802.6 360.0L802.9 361.8L802.9 369.6L804.0 371.7L807.0 371.0L808.8 371.9L809.5 374.6L812.3 374.8L814.5 374.4L816.3 376.0L816.4 379.0L819.3 377.7L820.6 379.9L822.7 381.1L823.8 382.7L825.6 383.9L824.3 386.9L826.9 387.7L827.8 390.2L830.5 389.7L831.0 392.6L833.7 392.2L834.8 394.2L835.8 401.9M835.8 401.9L837.3 413.6L838.7 415.0L837.2 417.6L839.4 418.9L838.9 421.4L840.2 423.5L841.4 425.1L844.5 424.2L845.1 427.4L847.7 427.9L848.4 430.3L851.0 429.8L850.5 433.0L853.3 433.2L853.9 435.6L855.3 437.0L854.1 439.8L857.3 441.4L855.7 444.4L857.5 446.0L856.6 448.7L853.4 447.7L852.4 449.5L852.6 452.7L849.8 453.2L847.7 454.6L846.3 454.9L844.4 453.5L842.5 455.7L840.4 455.0L840.4 462.8L838.7 465.2L840.9 467.8L837.5 469.1L838.3 471.9L837.6 474.5L834.7 473.8L834.2 476.8L832.1 477.1L831.7 482.8L832.0 484.9L829.9 486.6L831.5 488.6L828.8 490.1L830.0 492.6L831.5 494.1L830.7 496.8L833.8 498.1L833.1 500.4L833.8 503.0L835.6 504.4L838.3 504.8L838.3 507.0L840.4 508.1L842.0 509.2L841.5 512.0L844.7 512.7L843.6 515.7L846.5 516.2L846.6 518.5L851.8 519.8L853.3 521.6L856.8 519.9L858.1 521.9L857.5 528.1L855.2 529.4L854.6 531.5L855.7 534.7L853.9 536.6L854.7 539.0L855.6 540.6L859.5 540.4L858.3 543.8L861.6 543.8L862.2 545.7L864.8 546.2L865.3 548.8L868.1 548.6L869.1 551.7L871.6 552.2L871.2 562.5L871.8 564.8L875.1 565.1L874.9 568.3L878.3 567.7L878.9 570.3L878.9 576.8L878.2 579.8L875.8 580.7L870.6 582.0L871.2 585.8L868.5 587.3L868.5 589.7L867.4 596.2L865.1 597.6L866.1 600.4L863.3 601.0L863.3 604.0L861.5 605.6L862.9 608.6L860.2 609.2L860.2 611.7L859.7 618.2L857.0 618.7L856.8 621.7L855.0 622.1L853.0 623.6L853.8 626.5L851.3 627.3L850.8 629.9L849.2 631.8L848.7 635.0L848.7 637.4L845.5 637.7L843.7 639.0L843.0 640.5L842.5 642.8L840.3 644.5L842.2 646.9L838.7 648.3L839.4 650.6L837.2 652.0L838.3 655.1L835.7 655.8L836.2 658.4L838.3 660.4L838.3 663.5L836.9 673.9L838.3 683.0L838.0 685.4L841.6 686.4L840.0 689.3L842.5 690.7L840.4 691.6L841.9 694.7L838.7 695.8L838.2 697.6L838.3 699.8L838.5 701.9L835.4 702.3L833.9 704.0L834.8 706.9L832.1 707.7L833.4 710.3L831.0 711.5L829.4 712.9L828.5 715.4L828.9 717.9L827.4 719.8L829.5 722.3L826.9 723.8L827.3 725.7M847.9 427.9L907.0 427.9M912.8 447.8L912.6 509.4L911.6 518.5L912.8 526.8L911.0 527.8L909.3 529.3L910.4 532.8L908.0 534.0L908.2 536.5L905.1 537.7L906.3 540.2L903.9 541.8L902.2 543.3L901.8 545.4L903.6 548.1L902.2 549.6M1058.5 476.0L1059.2 478.5L1056.2 480.2L1056.4 482.2L1057.4 484.8L1054.2 486.4L1055.7 488.6L1054.3 490.8L1055.2 493.0L1052.3 494.3L1051.8 496.6L1052.9 498.9L1051.6 500.4L1051.5 502.5L1048.4 502.9L1048.7 505.5L1046.4 506.8L1044.6 508.8L1043.0 509.5L1040.2 508.7L1038.7 511.5L1036.6 511.5L1036.8 514.0L1035.7 515.8L1032.4 515.8L1032.5 518.5L1030.8 520.3L1028.3 518.8L1026.6 521.1L1026.6 523.6L1024.3 524.9L1023.0 526.7L1023.9 528.9L1020.8 529.5L1019.5 531.1L1018.3 533.5L1015.2 534.0L1014.4 532.1L1010.6 532.5L1010.0 530.2L1009.3 527.7L1006.9 525.5L1004.4 525.3L1002.3 525.7L1000.6 528.1L990.8 527.6L988.4 527.8L987.3 525.1L984.6 526.9L984.4 524.0L981.9 524.2L981.5 522.0L980.6 520.3L978.7 518.7L975.9 518.4L975.7 515.9L969.0 515.9L968.0 521.1L965.9 522.0L965.3 524.2L956.9 525.5L957.1 528.1L953.8 528.9L954.5 531.5L952.8 532.7L952.0 535.4L949.6 537.4L950.0 540.0L946.8 540.8L947.3 543.4L945.5 544.4L939.2 544.4L939.5 541.7L937.2 540.5L936.5 543.0L934.0 543.3L931.9 544.7L932.0 547.0L929.8 546.4L928.3 549.6L925.6 547.9L924.0 550.6L921.6 550.1L919.9 547.7L917.0 549.4L916.5 546.0L912.7 547.3L911.8 545.2L909.0 545.2L908.2 548.8L905.1 547.1L903.9 549.6L902.2 549.6L900.7 557.3L899.4 559.4L897.0 557.6L895.7 560.4L893.5 559.9L893.4 562.6L890.9 563.6L892.3 566.3L890.3 568.2L888.0 568.4L885.6 568.0L884.4 565.0L882.0 565.1L881.8 567.1L878.6 568.2L878.9 570.3M927.4 447.0L969.2 447.0L969.2 448.6L997.3 447.8M969.2 448.6L969.0 515.9M1058.5 441.3L1058.5 499.9L1156.9 499.9M1074.3 433.8L1074.3 440.8L1166.1 440.8L1169.0 441.7L1170.2 444.7L1172.0 446.4L1170.8 448.8L1173.3 449.9L1171.3 452.5L1173.4 453.8L1175.0 456.2L1177.1 456.9L1179.8 457.4M1179.8 457.4L1178.8 459.8L1176.5 460.2L1174.4 461.3L1174.5 463.9L1173.2 466.2L1170.6 466.7L1169.2 474.5L1171.1 476.0L1171.3 478.4L1172.3 482.2L1173.2 484.7L1175.9 483.9L1176.0 487.2L1178.1 487.4L1176.5 490.0L1174.0 490.4L1172.1 491.5L1170.6 493.9L1169.0 496.4L1166.4 495.7L1164.6 497.8L1162.7 498.9L1161.9 501.7M1179.8 457.4L1196.2 466.7L1197.0 469.4L1194.2 470.4L1193.1 471.8L1193.7 474.5M1164.6 497.8L1160.9 497.0L1158.1 497.6L1156.9 499.9L1158.8 532.7L1172.3 532.7M1168.4 543.6L1166.4 545.6L1164.1 543.0L1162.5 545.9L1159.8 545.7L1154.6 545.7M1079.9 499.9L1079.9 513.3L1082.0 512.9L1083.1 509.4L1086.3 510.8L1086.5 507.5L1089.1 506.8L1089.5 504.7L1092.6 505.0L1093.1 502.4L1095.1 501.7L1097.1 503.8L1099.5 502.2L1101.6 504.3L1102.5 502.2L1106.1 502.8L1107.2 500.4L1109.7 500.3L1110.7 503.5L1113.0 503.0L1115.0 504.6L1115.1 506.8L1116.5 510.2L1118.4 512.4L1121.3 512.0L1121.3 515.9L1122.5 518.2L1125.1 516.6L1126.5 518.5L1128.1 521.1L1130.7 521.1L1130.7 526.3L1129.5 528.6L1126.5 528.9L1125.5 534.0M1116.5 510.2L1116.8 513.0L1114.5 514.6L1113.8 512.2L1111.9 511.8L1109.3 512.3L1109.4 509.3L1106.3 509.8L1104.5 509.0L1103.6 506.8L1102.6 513.3L1102.1 515.5L1098.9 515.2L1098.9 518.6L1096.2 518.4L1096.5 521.8L1093.4 521.6L1092.8 523.7L1089.1 522.4L1088.4 524.9L1085.1 523.7L1084.2 527.1L1081.8 526.3L1080.7 528.9L1078.0 530.1L1076.6 532.7L1076.1 535.3L1074.5 536.6L1072.4 538.3L1073.6 541.2L1070.4 541.9L1072.1 545.2L1069.2 546.3L1069.3 548.3L1067.0 549.1L1065.9 551.7L1066.7 554.8L1063.2 555.1L1063.1 557.3L1061.4 558.8L1059.2 557.4L1057.6 559.8L1055.2 558.2L1053.4 560.6L1051.6 559.9L1050.6 562.6L1048.5 563.3L1041.2 562.5L1039.4 564.4L1037.5 562.8L1035.7 565.4L1033.9 565.1L1031.5 564.3L1032.7 561.4L1029.9 560.4L1030.3 557.1L1028.3 556.3M1015.2 534.0L1014.8 541.8L1017.0 542.4L1017.8 544.1L1017.1 547.0L1018.9 548.3L1019.5 550.4L1022.3 550.3L1022.1 553.0L1024.6 553.5L1025.8 556.3L1028.3 556.3M1028.3 556.3L1025.8 556.5L1025.8 560.6L1022.3 560.3L1021.4 562.5L1019.3 562.5L1016.6 563.6L1015.2 565.1L1015.1 567.9L1012.0 568.4L1012.1 570.3L1009.2 570.2L1009.2 573.4L1006.0 572.4L1004.8 574.2L1003.7 576.6L1000.8 575.4L999.8 578.0L997.7 577.0L996.5 580.0L993.8 578.7L992.7 580.7M1155.2 582.0L1069.3 582.0L1034.3 580.9L992.7 580.7L965.3 580.1L934.0 579.9L905.9 579.4L901.4 578.6L901.8 583.2L873.3 583.2M1034.3 580.9L1033.5 587.1L1032.9 589.3L1029.5 589.2L1028.8 592.5L1026.6 593.1L1019.4 593.6L1016.2 594.5L1015.2 597.5L1009.0 597.5L1008.1 599.8L1004.5 598.9L1004.3 602.7L1001.7 602.7L999.1 603.8L999.1 606.5L996.5 607.6L988.1 609.1L988.4 611.9L985.3 613.0L985.0 615.6L980.2 615.6L979.4 622.4M855.0 622.1L898.7 622.1L952.6 622.6L979.4 622.4L1004.8 622.1M1004.8 622.1L1019.4 616.9L1047.5 617.4L1047.5 620.8L1049.9 619.5L1049.5 621.5L1052.2 623.1L1051.2 625.3L1052.7 626.8L1076.2 627.3L1099.5 651.9M1004.8 622.1L1003.1 623.3L1003.5 626.5L1000.3 627.2L999.6 629.9L1002.2 630.7L1002.7 633.2L1005.8 633.2L1007.5 634.1L1009.0 636.3L1011.0 637.6L1010.1 639.8L1013.6 640.8L1012.1 643.6L1015.3 644.0L1016.2 646.1L1016.2 648.0L1028.7 662.2L1038.1 673.9L1039.7 675.4L1039.1 677.7L1039.6 680.2L1042.5 681.2L1041.9 683.9L1044.3 684.9L1044.3 686.8L1046.4 688.4L1045.6 690.4L1048.8 691.4L1047.3 694.7L1050.5 695.1L1049.9 697.6L1051.6 699.0M1039.1 733.2L1036.0 732.2L1027.7 730.9L1026.6 742.3L1026.1 739.6L1023.0 739.4L1023.1 736.8L968.2 733.5L968.2 731.0L965.7 729.9L964.8 728.0L965.3 725.7M952.6 622.6L961.5 677.5L961.2 680.0L964.0 680.9L962.4 684.1L965.3 685.5L963.9 687.6L965.7 689.4L964.2 699.8L964.2 712.8L965.3 725.7M965.3 725.7L911.1 725.7L911.4 727.8L914.5 729.1L915.4 730.9L915.3 733.5L914.7 738.6L913.2 744.3M898.7 622.1L893.0 699.8L894.5 741.8M827.3 725.7L866.8 725.7L865.0 727.4L867.1 730.7L864.0 732.4L864.7 734.8L866.6 736.5L865.5 739.9L867.4 741.2L867.8 743.5L871.1 744.5L871.0 746.9M836.9 673.9L777.1 673.9M768.0 657.3L770.8 657.1L772.2 659.3L775.1 657.5L777.1 659.7L777.1 699.8L776.4 702.0L779.8 703.1L780.7 704.8L781.3 706.0L780.2 708.6L782.1 710.2L784.0 711.5L783.2 713.9L785.3 714.9L784.8 717.6L787.1 718.1L787.3 720.5L784.2 736.1L783.8 746.4L782.4 748.7L782.0 750.6L783.5 752.7L780.7 754.9L782.4 757.2L781.1 759.4M768.0 657.3L769.0 612.0L765.1 583.2M765.1 583.2L858.1 583.2L859.1 588.4L857.0 588.8L857.6 592.1L854.8 592.3L855.5 595.4L853.3 596.2L867.4 596.2M590.7 583.2L653.1 583.2L653.1 633.5L655.7 633.0L657.5 634.4L659.1 637.2L660.9 637.9L663.5 637.6L666.1 637.6L667.5 638.4L668.9 639.4L670.3 640.8L671.8 642.8L686.4 644.9L688.7 645.1L688.9 648.1L692.1 646.7L694.0 648.0L694.7 650.6L696.8 650.6L699.5 650.8L700.8 653.0L703.3 651.9L705.4 652.7L707.2 654.5L709.1 651.7L711.4 650.6L712.2 652.6L715.3 651.8L716.8 653.4L717.6 655.3L720.3 655.5L721.4 652.3L723.9 651.9L725.3 653.6L728.7 652.9L730.1 655.3L732.3 655.9L733.2 652.4L735.5 653.9L736.6 650.6L738.3 650.0L740.5 650.6L750.9 651.4L753.3 651.3L753.6 655.1L756.4 654.2L757.0 657.4L759.2 657.1L768.0 657.3M590.7 570.3L590.7 583.2L589.4 699.8L515.3 699.8L514.5 701.9L515.3 703.6L517.2 705.5M1201.2 467.2L1199.8 464.1L1202.3 464.5L1202.4 461.2L1205.0 461.5L1203.5 458.9L1204.8 439.5L1209.6 421.4L1209.8 399.4L1206.6 398.1L1206.6 389.0L1208.1 376.1L1207.9 363.1M1204.8 439.5L1219.1 440.0L1239.9 440.3L1239.9 456.3L1238.7 458.4M1239.9 440.3L1248.7 440.5L1248.7 443.4L1250.2 444.9L1250.3 447.3L1251.2 449.2L1253.9 449.1L1254.1 453.8M1209.6 421.4L1226.2 421.9L1250.3 422.7L1251.4 420.5L1253.5 420.1L1255.3 417.9L1258.6 419.7L1260.3 418.3M1226.2 421.9L1226.4 414.9L1227.9 401.9L1229.5 400.7L1230.9 398.5L1231.5 396.3L1231.6 394.2L1231.0 391.4L1231.9 389.9L1232.3 387.9L1234.8 386.4L1234.7 383.8L1237.2 383.4L1238.1 380.5L1241.0 381.2L1242.0 378.6L1244.2 377.2L1245.0 375.4L1245.1 373.5L1246.2 362.8M1263.3 412.3L1262.5 410.2L1260.3 409.7L1259.3 407.1L1257.0 405.8L1257.2 400.1L1254.9 355.3M852.5 322.2L852.7 324.1L856.1 324.5L855.3 327.7L858.3 326.8L858.7 329.4L879.9 334.1L881.8 335.9L884.7 334.4L885.8 338.2L888.3 337.7L898.7 337.2L900.4 339.4L900.7 342.4L905.9 343.7L905.9 352.7L910.1 354.0L911.1 360.5M1147.3 547.0L1147.7 544.1L1145.7 541.8L1143.4 541.9L1142.4 539.3L1139.5 540.6L1139.1 537.5L1135.9 539.4L1134.7 536.4L1132.8 536.6L1130.2 537.0L1129.8 534.5L1128.1 533.3L1125.5 534.0M1145.7 541.8L1144.2 532.7L1143.2 519.8L1143.2 512.0L1144.0 509.5L1147.5 509.7L1146.9 506.9L1149.9 506.4L1150.9 504.3L1152.5 506.8L1150.7 508.1L1152.2 510.8L1149.4 511.9L1150.3 514.9L1148.4 515.9L1147.3 523.7L1146.3 535.3L1148.4 536.8L1150.8 535.1L1152.7 538.1L1154.6 537.9L1155.7 544.4L1154.6 545.7M1143.2 536.6L1141.5 534.8L1143.2 532.0L1143.4 530.4L1140.5 528.2L1141.1 526.3L1141.2 528.3L1137.7 528.9L1138.0 531.5M1150.5 528.9L1152.7 527.4L1152.5 525.0L1153.6 528.9" fill="none" stroke="#2f3a52" stroke-width="1.3"/>
<path d="M178.6 267.7L179.1 266.7L179.7 266.6L180.2 267.4L179.5 267.8ZM178.5 269.1L179.2 270.0L178.1 270.3L177.3 269.7ZM175.7 266.2L176.7 266.4L177.2 267.3L176.4 268.3L175.6 267.4ZM171.6 269.2L172.1 269.4L172.7 270.3L171.5 271.2L170.8 270.3L170.6 269.4ZM183.3 268.2L183.1 269.1L182.0 268.8L181.6 268.0L182.2 267.3L183.2 267.1ZM179.5 267.4L178.4 268.2L177.3 267.1L178.6 265.4ZM173.0 270.1L174.6 269.8L174.7 270.7L173.8 271.4ZM177.1 273.1L177.6 271.6L178.9 272.0L180.0 273.1L179.3 274.4L177.7 274.0ZM172.4 270.8L171.0 269.8L171.7 268.3L173.2 267.8L174.1 269.9ZM180.8 271.8L180.5 272.6L179.5 272.3L179.6 271.6L179.9 270.8L180.5 271.0ZM171.7 269.9L171.3 268.0L173.3 267.6L174.5 268.9L173.3 271.1ZM183.7 269.2L182.7 270.5L181.5 269.3L181.2 267.0L183.4 267.5ZM172.8 266.2L172.8 268.1L171.1 268.3L170.9 266.5ZM177.6 267.5L176.9 269.5L174.9 268.5L175.0 267.0L176.6 265.8ZM183.0 271.9L182.1 272.7L181.4 271.5L182.5 270.7ZM184.0 269.4L183.5 270.0L182.5 269.7L182.3 269.2L182.8 268.7L183.7 268.6ZM186.9 266.6L187.8 267.8L186.2 268.3L185.3 266.9ZM183.3 269.4L183.7 268.3L184.8 267.3L185.5 268.4L185.8 269.5L184.3 270.2ZM183.7 285.4L183.8 284.5L185.5 284.7L185.2 286.1L184.2 286.6ZM186.8 278.4L187.6 278.2L187.9 279.1L186.9 279.4ZM188.4 276.1L187.2 276.7L186.5 275.8L187.4 275.1ZM184.3 285.1L185.2 284.9L185.8 286.0L185.1 287.2L183.8 286.2ZM185.4 270.4L183.8 271.8L182.1 270.6L183.1 268.9L184.4 269.1ZM186.3 268.2L185.3 268.0L185.3 267.1L186.1 266.4L186.9 267.0L187.1 267.7ZM187.2 274.7L186.7 275.6L186.2 275.4L185.5 274.6L186.2 274.1L187.1 274.0ZM184.7 273.1L183.7 272.2L184.6 271.0L185.9 272.1ZM188.2 277.4L186.7 277.4L187.2 276.0L188.1 276.3ZM185.8 283.7L186.0 285.5L184.7 285.8L184.6 284.2ZM187.9 275.4L186.1 276.1L184.8 274.5L186.0 272.9L187.4 273.6ZM185.3 266.0L186.0 266.7L185.1 267.9L184.4 267.5L184.3 266.2ZM188.6 291.3L189.4 290.5L190.4 290.4L190.6 290.9L190.4 292.1L189.7 292.0ZM187.9 285.0L186.9 285.4L186.5 284.5L187.1 283.5L188.3 284.3ZM187.1 293.9L186.6 293.0L187.2 292.2L188.1 292.8L187.8 293.7ZM188.2 294.4L188.8 294.8L189.3 295.2L188.7 295.6L188.0 295.6L187.7 295.0ZM187.5 293.8L186.6 292.7L188.0 292.1L188.9 293.1ZM189.9 287.0L191.3 287.3L191.5 288.9L189.9 288.6L188.6 287.9ZM188.3 284.7L188.2 285.3L187.5 285.6L187.1 284.8L187.6 284.4L188.1 284.1ZM185.3 293.3L186.3 292.7L187.4 293.4L186.5 294.7L185.4 294.0ZM179.6 305.3L178.3 306.1L177.7 304.5L179.0 304.3ZM180.5 304.5L180.8 303.4L182.0 303.1L181.8 304.1ZM180.6 303.3L181.5 304.3L181.6 305.6L181.0 306.7L179.6 305.6L179.4 304.5ZM181.1 303.3L182.0 303.7L182.2 304.7L181.5 305.1L180.4 304.4ZM181.2 304.3L180.4 303.9L180.4 303.1L180.9 302.8L181.9 302.8L182.1 303.7ZM180.8 304.0L179.2 303.4L179.8 301.9L180.7 301.7L181.1 302.8ZM180.1 301.3L180.7 302.7L180.0 304.2L178.4 303.4L179.2 302.2ZM183.0 303.4L183.5 304.1L183.4 304.9L182.7 305.2L182.0 304.2ZM180.7 301.4L182.0 301.8L182.8 303.0L181.5 303.5L180.2 302.8ZM181.2 308.3L180.0 307.4L180.7 305.6L182.2 306.8ZM176.8 305.0L177.4 303.7L178.7 303.7L179.0 304.8L178.2 305.5ZM180.2 306.1L181.8 305.1L182.3 306.6L181.3 307.8ZM152.3 314.5L152.0 313.8L152.6 313.5L153.0 313.9L152.9 314.5ZM152.0 313.4L151.1 313.4L151.2 312.5L152.1 312.1L152.5 313.0ZM153.0 314.7L151.9 314.9L151.8 313.7L152.5 313.5ZM150.4 314.1L149.9 313.7L150.3 312.8L151.3 313.0L151.5 314.3ZM190.0 555.2L189.0 555.6L188.5 554.8L188.7 553.7L189.6 553.7L190.3 554.3ZM188.0 549.4L188.5 549.1L188.6 549.7L188.5 550.4L188.1 550.4L187.6 549.8ZM190.0 554.0L188.7 553.9L188.5 553.0L189.6 552.7L190.6 553.2ZM190.0 555.2L189.4 555.9L188.8 555.3L189.3 554.0ZM185.4 553.7L184.4 553.0L184.1 552.3L184.9 552.0L185.9 552.0L186.0 552.9ZM187.3 547.3L187.8 547.7L188.0 548.4L187.3 548.7L186.8 548.4L186.8 547.8ZM185.2 553.7L185.8 553.1L186.6 553.1L186.7 553.8L186.4 554.3L185.7 554.1ZM186.5 551.5L186.3 551.3L186.1 550.8L186.7 550.5L187.3 550.9L187.0 551.4ZM187.4 547.7L187.1 545.8L189.1 545.8L188.9 547.4ZM1309.4 386.8L1310.1 386.9L1310.2 387.7L1310.0 388.2L1309.2 388.3L1309.2 387.5ZM1302.7 386.7L1304.2 388.1L1302.2 389.2L1301.1 387.7ZM1306.1 385.6L1305.0 386.4L1303.5 386.6L1303.4 385.1L1305.0 384.3ZM1308.3 387.6L1308.5 388.3L1307.8 388.5L1307.4 387.8ZM1302.0 379.5L1303.2 379.4L1303.6 380.6L1302.3 380.9ZM1298.1 383.5L1297.2 383.1L1297.5 382.3L1298.4 382.4L1299.1 383.3ZM1300.4 380.5L1301.1 380.5L1301.7 381.1L1301.0 381.7L1300.2 381.6ZM1310.9 382.8L1311.1 383.4L1310.8 384.0L1310.0 383.9L1309.9 383.1L1310.3 382.8ZM1304.3 386.5L1302.9 386.0L1303.0 384.7L1304.4 385.1ZM1302.1 382.0L1302.4 381.4L1303.0 381.7L1302.8 382.5ZM1300.9 380.8L1301.9 382.2L1300.7 382.8L1299.3 382.0ZM1300.6 385.5L1300.5 386.0L1300.0 386.3L1299.7 386.0L1299.6 385.3L1300.2 385.2ZM1309.2 383.7L1310.5 384.6L1309.3 386.0L1308.1 384.7ZM1303.0 387.3L1304.4 387.6L1305.4 388.3L1304.1 389.0L1302.5 388.7ZM1306.6 386.1L1307.2 385.2L1307.8 384.5L1308.8 385.2L1308.4 386.5L1307.6 387.0ZM1309.6 379.8L1310.1 381.0L1309.6 382.1L1308.3 381.3L1308.7 380.5ZM1301.6 382.8L1302.5 381.8L1303.6 381.9L1303.6 383.0L1303.3 384.0L1302.4 383.9ZM1304.5 383.5L1303.6 383.8L1303.5 382.9L1304.4 382.5ZM1301.1 382.2L1300.4 383.0L1299.4 383.0L1299.3 382.0L1300.1 381.3ZM1308.2 383.7L1308.3 382.7L1309.3 383.1L1309.1 384.1ZM1298.8 382.5L1299.0 381.8L1299.6 381.8L1300.1 382.7L1299.2 383.0ZM1307.4 386.7L1306.7 387.2L1306.2 386.6L1306.2 385.2L1307.0 385.2L1307.6 385.6ZM1283.1 390.3L1282.9 390.6L1282.4 390.8L1282.2 390.4L1282.3 390.0L1282.8 389.7ZM1287.8 391.0L1287.6 391.6L1286.7 392.4L1286.2 391.5L1286.1 390.8L1287.0 390.3ZM1293.5 394.6L1293.0 394.2L1292.9 393.6L1293.6 393.5L1294.1 393.6L1294.2 394.1ZM1289.2 390.5L1289.5 389.0L1290.3 388.9L1291.1 389.9L1290.4 390.7ZM1290.1 395.1L1289.1 394.4L1289.1 393.6L1290.0 393.1L1290.8 394.0ZM1293.8 392.9L1293.9 392.1L1294.8 392.2L1294.5 393.0ZM1282.5 393.3L1281.8 393.8L1281.1 393.7L1281.0 392.8L1281.7 392.6ZM1286.4 391.4L1286.7 392.3L1286.1 392.5L1285.3 392.2L1285.6 391.6ZM1292.1 394.5L1291.4 393.1L1293.1 392.2L1293.3 394.2ZM1283.0 394.0L1282.1 393.2L1282.7 392.1L1284.2 392.9ZM1283.2 392.8L1282.9 392.1L1283.7 391.6L1284.7 392.1L1284.4 392.9L1283.6 393.5ZM1292.2 392.2L1291.6 393.0L1291.2 392.7L1290.6 391.7L1291.4 391.4L1292.2 391.8ZM1285.3 390.1L1284.6 390.6L1283.9 390.7L1283.6 389.8L1284.1 389.3L1284.7 389.1ZM1293.6 389.8L1293.8 390.3L1293.2 390.6L1292.7 390.4L1292.9 389.7ZM1330.1 373.2L1329.7 372.5L1329.9 372.0L1330.6 371.9L1331.0 372.4L1330.4 373.0ZM1326.2 375.2L1325.9 374.4L1326.9 374.4L1327.0 375.2ZM1326.8 376.0L1326.3 374.6L1327.7 374.3L1327.9 375.2ZM1326.9 373.0L1327.5 372.6L1328.0 373.6L1327.4 374.1L1326.6 374.2L1326.4 373.3ZM1331.5 373.4L1330.6 374.3L1329.7 373.3L1330.1 371.9L1331.3 372.5ZM1332.8 372.6L1332.2 373.0L1331.8 372.7L1332.2 372.0ZM1320.2 373.8L1319.4 374.0L1319.0 373.1L1319.6 372.3L1320.2 373.0ZM1323.0 371.2L1322.1 371.2L1321.9 370.2L1323.0 370.2ZM1325.1 373.3L1325.2 373.6L1324.8 373.9L1324.3 374.0L1324.1 373.5L1324.5 373.2ZM1320.4 372.2L1320.6 371.4L1321.0 371.3L1321.3 371.9L1321.0 372.7ZM1258.8 452.5L1258.0 452.5L1258.4 451.8L1259.1 451.8ZM1263.1 451.4L1264.0 451.8L1264.0 452.5L1263.0 452.9L1262.4 452.6L1262.3 451.8ZM1261.7 449.7L1260.8 450.7L1259.9 450.0L1260.5 448.8ZM1259.3 452.9L1258.7 452.3L1259.0 451.4L1259.9 451.3L1260.5 451.9L1260.1 452.9ZM1260.7 453.8L1261.1 453.3L1261.7 453.5L1261.5 454.0ZM1261.0 451.6L1261.6 452.5L1261.5 453.3L1260.6 453.4L1259.9 452.5ZM1259.3 450.1L1259.9 450.9L1259.5 451.6L1258.4 451.5L1258.2 450.9L1258.6 450.2ZM1262.7 454.5L1262.4 453.8L1262.4 453.4L1263.1 453.2L1263.3 454.0ZM1250.3 456.4L1251.0 455.8L1251.7 456.2L1251.2 457.1ZM1246.5 454.6L1245.9 454.3L1246.3 453.6L1246.8 453.9L1246.9 454.4ZM1249.6 457.4L1248.7 457.5L1248.3 456.8L1248.3 456.0L1249.4 455.4L1250.3 456.3ZM1250.9 455.1L1251.2 455.4L1250.9 456.3L1250.3 455.9L1250.2 455.2ZM1250.6 455.8L1249.8 456.6L1248.4 456.1L1248.5 455.2L1249.7 455.1ZM1251.6 456.3L1250.5 456.5L1249.7 455.6L1250.2 454.9L1251.3 455.2ZM1247.1 455.1L1247.8 455.3L1248.3 455.6L1247.9 456.3L1247.4 456.0L1247.2 455.8ZM1226.6 464.8L1226.2 465.7L1224.8 465.2L1225.8 464.3ZM1233.0 465.4L1233.8 465.5L1234.0 466.0L1233.3 466.1ZM1229.6 464.3L1230.5 464.1L1230.6 464.9L1229.6 465.2ZM1231.0 467.4L1230.7 468.0L1230.1 467.8L1230.0 467.1L1230.8 467.0ZM1233.6 466.8L1233.1 466.6L1233.2 465.9L1234.0 465.7L1234.0 466.6ZM1228.1 468.1L1227.4 468.0L1227.4 467.3L1227.8 467.1L1228.4 467.3ZM1233.2 465.4L1232.4 466.6L1231.5 465.7L1231.3 464.9L1232.6 464.4ZM1228.0 466.9L1227.5 467.3L1227.1 467.0L1227.0 466.4L1227.6 466.5ZM1232.4 464.6L1232.8 465.2L1232.2 465.8L1231.8 465.7L1231.7 465.1L1231.8 464.9ZM1233.7 464.6L1233.8 465.6L1233.1 466.1L1232.7 465.4L1232.8 464.2ZM1195.4 472.0L1195.2 470.5L1195.8 469.5L1197.0 470.4L1197.2 471.2L1196.3 471.7ZM1193.9 471.2L1193.2 470.8L1193.3 470.1L1193.7 469.6L1194.3 470.2L1194.5 470.9ZM1195.0 471.5L1195.2 470.8L1196.2 470.0L1196.8 470.8L1197.1 471.8L1196.0 471.8ZM1199.2 471.3L1198.0 471.7L1196.8 471.3L1197.1 470.1L1198.5 470.0ZM1195.7 476.4L1195.2 475.6L1195.8 474.8L1196.7 475.7ZM1198.4 473.5L1197.5 473.6L1196.9 473.7L1196.3 472.7L1197.2 472.3L1197.9 472.5ZM1194.7 472.5L1194.8 471.0L1195.9 471.2L1196.0 472.3ZM1194.9 472.7L1195.4 473.3L1195.5 474.4L1194.5 474.6L1194.1 474.0L1194.1 472.8ZM1197.2 472.1L1197.9 471.4L1198.7 472.1L1198.4 472.9L1197.5 472.9ZM1197.1 468.3L1197.5 469.5L1196.0 469.8L1196.2 468.4ZM1142.5 567.0L1142.1 566.5L1142.8 566.2L1143.3 566.6L1143.1 567.1ZM1143.0 569.0L1141.8 569.2L1141.4 568.7L1142.3 568.3ZM1143.3 566.6L1143.7 567.0L1143.3 567.9L1142.7 567.4L1142.6 566.5ZM1143.8 572.4L1143.2 571.3L1144.7 570.9L1145.1 572.1ZM1142.3 567.2L1141.8 566.4L1142.8 566.1L1143.4 566.9ZM1143.4 566.7L1144.0 566.4L1144.8 566.7L1144.7 567.5L1144.1 568.4L1143.4 567.7ZM1144.8 571.6L1144.7 570.3L1145.1 569.2L1145.9 569.9L1146.2 571.0ZM1145.2 570.6L1144.1 571.6L1143.1 570.8L1143.8 570.0ZM1149.8 542.9L1149.9 543.6L1149.4 544.5L1148.8 543.7L1148.5 542.6ZM1146.0 527.6L1146.3 528.7L1145.4 529.3L1145.2 528.2ZM1148.7 531.3L1149.8 531.3L1149.5 532.7L1148.8 533.0L1148.0 532.1ZM1149.6 537.6L1150.2 538.5L1149.8 539.5L1148.7 538.6ZM1146.1 526.8L1146.3 527.2L1145.6 527.7L1145.1 527.2L1145.5 526.6ZM1145.6 540.5L1145.4 541.3L1144.7 541.3L1144.5 540.6L1145.1 540.0ZM1147.8 532.8L1148.1 531.9L1149.4 531.4L1150.1 532.6L1149.8 533.3L1148.4 533.7ZM1148.2 537.6L1146.8 537.4L1146.8 535.9L1148.2 536.2ZM1145.0 535.9L1145.5 537.1L1144.7 538.0L1143.8 536.8ZM1146.3 524.6L1146.6 525.6L1146.3 526.4L1145.5 525.9L1145.3 525.1ZM1144.5 538.2L1144.9 537.5L1145.8 537.0L1146.2 537.9L1146.3 538.4L1145.3 539.0ZM1147.6 538.3L1146.8 537.7L1147.4 537.1L1148.6 537.1L1149.2 537.6L1148.6 538.5ZM1148.5 532.6L1147.4 532.1L1147.2 531.4L1147.7 530.3L1148.8 530.5L1149.4 531.6ZM1145.3 528.8L1146.2 529.2L1146.4 529.8L1145.7 530.7L1144.8 530.3L1144.9 529.5ZM1147.2 532.1L1146.8 532.7L1146.3 532.5L1146.2 531.5L1147.0 531.6ZM1150.3 529.4L1149.4 529.6L1149.3 528.9L1149.4 527.9L1150.2 528.2L1150.6 528.8ZM1150.1 533.1L1151.1 533.0L1151.0 534.3L1150.6 535.2L1149.6 534.6L1149.3 533.4ZM1149.0 538.6L1149.7 538.5L1150.1 539.2L1149.5 539.6L1148.7 539.8L1148.4 538.9ZM1145.1 522.8L1145.8 522.0L1146.5 522.4L1146.4 523.3L1145.8 523.8ZM1145.8 537.5L1146.7 536.1L1147.9 537.1L1147.2 538.1ZM1144.0 535.1L1144.3 534.7L1145.1 534.8L1145.1 535.6L1144.4 535.7ZM1146.7 536.8L1147.4 537.7L1146.6 538.5L1145.9 537.9L1145.8 537.1ZM1146.2 531.4L1146.1 530.7L1146.8 530.5L1147.1 531.1L1146.7 531.7ZM1148.1 536.8L1147.4 536.2L1147.7 535.3L1148.2 535.4L1148.4 536.1ZM1146.9 545.5L1147.7 546.0L1147.2 546.9L1146.5 547.2L1146.1 546.4L1146.3 545.6ZM1148.4 527.3L1149.2 527.2L1149.8 527.5L1149.8 528.0L1149.1 528.4L1148.4 528.0ZM1153.7 556.6L1153.2 556.1L1153.3 555.4L1154.4 555.1L1154.9 556.6ZM1153.8 552.4L1153.0 552.0L1153.5 551.2L1154.2 551.7ZM1154.9 556.2L1153.9 556.6L1152.7 556.3L1153.0 555.4L1153.4 554.5L1154.5 555.4ZM1153.8 555.2L1153.2 554.8L1153.4 554.2L1154.2 554.3L1154.5 554.5L1154.6 555.0ZM1149.7 549.7L1149.4 549.2L1149.4 548.2L1150.3 548.5L1150.7 549.5ZM1148.8 553.0L1150.0 552.3L1150.7 553.1L1149.8 553.8ZM1153.9 551.9L1154.3 551.1L1154.9 551.5L1155.5 551.9L1154.9 552.6L1154.2 552.5ZM1152.2 547.5L1152.5 547.9L1152.7 548.5L1152.1 548.7L1151.4 548.4L1151.7 547.6ZM1152.4 552.3L1152.9 553.0L1152.1 553.9L1151.0 553.3L1151.0 552.6L1151.4 552.1ZM1151.6 550.3L1152.1 550.9L1152.3 552.0L1151.1 552.5L1150.7 551.5L1150.8 550.6ZM1058.2 691.6L1058.8 692.2L1058.5 692.7L1057.9 693.1L1057.4 692.5L1057.8 691.9ZM1056.2 697.2L1054.2 696.9L1054.3 695.1L1055.7 695.6ZM1051.4 689.9L1051.6 691.3L1050.0 691.6L1049.9 690.0ZM1053.4 690.7L1051.9 690.8L1052.4 689.3L1053.3 689.1L1053.7 690.1ZM1057.4 693.3L1058.4 692.8L1059.1 693.4L1059.1 694.6L1058.1 695.0L1057.6 694.3ZM1050.2 688.3L1049.5 687.3L1050.4 686.7L1051.0 687.5ZM1052.7 691.3L1053.5 689.7L1054.5 691.0L1054.8 692.3L1052.7 693.2ZM1053.0 692.2L1053.3 693.0L1052.2 693.3L1052.0 692.3ZM1056.6 691.8L1054.8 691.5L1055.0 689.8L1056.6 690.2ZM1049.9 689.6L1051.6 689.9L1051.7 691.3L1049.8 692.1ZM1053.1 691.4L1053.2 690.7L1054.1 689.7L1054.8 690.7L1054.9 691.9L1053.8 692.0ZM1052.0 686.6L1054.0 686.3L1054.8 687.6L1053.1 687.9ZM1058.4 688.1L1058.6 687.5L1059.3 687.5L1059.6 687.8L1059.7 688.5L1059.1 688.7ZM1058.1 688.3L1058.0 689.7L1056.9 690.9L1055.3 690.1L1055.5 688.8L1056.6 687.7ZM1057.6 686.1L1058.6 685.5L1059.2 686.9L1057.9 687.9ZM1055.8 689.7L1057.6 688.5L1059.0 690.1L1057.0 691.4ZM1053.2 690.0L1051.5 690.3L1051.4 688.6L1052.5 688.3ZM1054.0 692.7L1055.2 693.5L1055.4 694.4L1054.5 695.7L1053.5 695.1L1052.8 693.5ZM1048.7 691.0L1049.7 689.0L1051.4 689.5L1050.8 691.0ZM1053.4 685.5L1054.0 686.5L1053.1 686.9L1051.9 686.7L1051.5 685.9L1052.7 685.1ZM1055.3 687.1L1055.9 688.4L1054.7 689.5L1053.9 687.9ZM1054.7 692.0L1053.9 693.7L1052.7 692.4L1052.3 690.5L1054.2 691.0ZM1059.4 687.6L1058.8 687.7L1058.5 687.3L1058.7 686.8L1059.6 686.9ZM1053.4 692.6L1053.4 693.5L1052.3 694.0L1051.8 693.3L1051.5 692.6L1052.4 692.1ZM1053.0 692.3L1054.3 692.2L1054.8 693.6L1054.1 694.6L1052.9 694.9L1052.7 693.5ZM1053.5 691.5L1054.9 692.6L1053.9 693.6L1052.9 692.9ZM1050.1 688.0L1050.6 689.2L1050.0 689.7L1048.9 689.1ZM1054.6 692.9L1054.2 693.7L1052.4 693.7L1052.5 691.8L1054.2 691.0ZM1051.4 684.7L1050.9 683.6L1052.1 683.3L1052.6 684.1ZM1048.7 688.3L1050.1 687.3L1050.7 688.6L1050.6 689.7L1049.0 689.8ZM1051.6 693.2L1051.0 693.9L1049.9 694.1L1050.0 692.7L1050.8 692.4ZM1057.1 691.1L1056.2 691.3L1055.9 690.7L1056.3 689.8L1057.0 689.7L1057.6 690.5ZM1050.5 693.1L1051.0 693.2L1051.3 693.9L1050.7 694.4L1050.0 693.8ZM1053.8 697.1L1053.2 697.5L1052.6 696.8L1052.9 695.8L1053.9 696.1ZM1058.4 690.4L1058.0 689.8L1058.3 689.0L1059.0 689.5L1058.9 690.3ZM1058.4 686.0L1057.1 686.1L1057.5 685.2L1058.3 685.0ZM1052.3 693.1L1053.0 692.5L1053.4 693.3L1053.5 693.9L1052.6 694.0L1052.0 693.7ZM1048.8 690.4L1049.7 690.7L1049.5 692.1L1048.5 692.4L1048.3 691.1ZM1064.4 683.8L1064.2 683.2L1064.9 682.8L1065.3 683.6ZM1068.1 679.3L1067.3 679.6L1066.6 678.7L1067.2 678.2L1068.2 677.8L1068.2 678.7ZM1066.9 679.1L1066.7 680.7L1065.5 681.4L1065.1 680.1L1065.6 679.3ZM1063.6 681.4L1063.6 681.9L1063.2 682.4L1062.6 682.4L1062.3 681.5L1062.8 681.3ZM1065.9 678.4L1066.6 678.1L1067.5 679.1L1067.0 679.7L1066.0 679.9L1065.8 679.2ZM1067.5 683.5L1067.1 684.4L1065.9 684.1L1065.9 683.1L1066.9 683.0ZM1068.4 680.6L1069.4 679.7L1070.4 680.1L1070.1 681.1L1069.7 681.9L1068.8 681.6ZM1065.6 678.3L1066.4 677.9L1067.0 678.7L1066.0 678.9ZM1067.8 678.3L1068.5 678.8L1068.4 679.6L1067.6 680.0L1067.0 679.6L1067.1 678.4ZM1066.6 678.8L1066.4 678.1L1067.2 677.3L1067.4 678.6ZM1072.6 674.3L1073.0 674.0L1073.8 674.0L1073.8 674.6L1073.4 674.9L1072.8 675.1ZM1081.3 671.4L1080.8 672.9L1079.3 672.6L1079.7 670.9ZM1074.5 675.2L1074.3 674.3L1075.0 673.8L1075.8 674.3L1075.6 675.4ZM1078.1 673.7L1078.8 673.4L1079.4 674.0L1079.2 674.5L1078.3 674.9L1077.9 674.3ZM1071.3 673.6L1070.7 673.3L1070.9 672.4L1071.9 672.5L1072.2 673.0L1071.9 674.0ZM1076.3 671.1L1075.6 672.2L1074.4 671.6L1075.1 670.3ZM1079.8 674.6L1079.1 674.9L1078.6 674.4L1078.5 673.7L1079.1 673.7L1079.8 674.0ZM1078.2 674.1L1079.1 674.1L1079.2 674.7L1078.5 674.7ZM1076.7 674.6L1077.5 673.7L1078.1 674.1L1078.5 675.3L1077.3 675.1ZM1045.2 703.4L1043.6 703.4L1043.9 701.9L1045.0 702.2ZM1046.8 702.8L1046.9 702.0L1048.1 702.0L1047.8 703.2ZM1046.3 700.9L1045.6 700.6L1046.2 700.0L1046.8 700.1L1046.7 700.7ZM1044.8 705.4L1045.6 705.0L1046.2 705.5L1045.8 706.2L1045.1 706.0ZM1047.2 704.2L1046.6 703.2L1047.7 702.6L1048.6 703.9ZM1045.8 706.1L1045.2 705.6L1045.4 705.2L1046.1 705.0L1046.6 705.5L1046.4 705.8ZM1047.6 701.1L1048.1 700.4L1049.0 700.3L1049.6 701.2L1049.0 701.6L1048.3 701.9ZM1049.1 705.2L1048.6 705.9L1048.1 705.6L1047.7 704.5L1048.8 704.3ZM1011.6 800.9L1012.6 801.2L1012.7 802.3L1011.6 802.7L1010.8 801.9ZM1014.2 808.1L1013.2 808.5L1012.5 807.6L1012.9 806.5L1013.8 806.9ZM1012.3 809.6L1013.1 809.3L1013.4 810.2L1013.0 810.6L1012.0 810.5ZM1011.8 805.6L1012.3 805.7L1012.3 806.4L1011.6 806.5L1011.4 806.1ZM1014.5 806.0L1014.0 806.7L1013.5 806.5L1013.5 805.8L1014.1 805.4ZM1010.7 804.9L1010.1 805.1L1009.4 804.8L1010.0 804.3L1010.7 804.1ZM1010.5 803.0L1011.8 802.4L1012.6 803.3L1011.4 803.7ZM1011.8 801.2L1012.3 800.7L1013.1 801.4L1013.0 802.5L1012.1 802.8L1011.3 802.2ZM1024.3 841.3L1023.5 841.7L1023.5 840.8L1023.8 840.0L1024.5 840.6ZM1022.9 835.0L1021.9 834.2L1023.1 833.4L1024.3 833.8L1024.1 835.4ZM1025.1 838.4L1023.8 837.4L1024.6 836.2L1026.1 836.6L1026.1 837.8ZM1024.2 835.4L1023.7 835.9L1023.0 835.1L1023.2 834.3L1023.7 834.2L1024.2 834.4ZM1025.6 835.5L1024.8 835.5L1024.6 834.7L1025.3 834.3L1025.8 835.0ZM1023.5 837.2L1024.5 836.8L1025.7 837.3L1024.9 838.3L1023.8 838.3ZM1025.5 836.4L1024.6 836.6L1024.3 835.8L1025.0 835.7ZM1051.3 880.8L1051.7 880.2L1052.7 880.0L1053.0 880.6L1053.0 881.5L1052.0 881.5ZM1057.8 880.7L1057.7 880.2L1058.4 879.9L1059.1 880.1L1058.8 880.8L1058.2 881.0ZM1053.9 879.5L1054.5 879.3L1054.6 880.0L1054.0 880.0ZM1057.0 879.4L1056.4 879.7L1056.0 879.8L1055.8 879.1L1056.5 878.7ZM1056.9 879.8L1057.2 880.4L1056.4 880.8L1056.3 880.0ZM1056.0 877.9L1056.7 877.9L1057.1 878.8L1056.2 879.2L1055.5 878.6ZM1053.4 878.3L1052.6 877.8L1053.2 877.1L1054.1 877.1L1054.3 878.0ZM1053.6 878.2L1054.2 877.9L1054.7 878.8L1054.6 879.4L1053.5 879.4L1053.1 878.9ZM1053.3 880.9L1052.3 881.4L1051.3 880.8L1051.8 880.2L1052.7 880.1ZM1052.5 878.5L1051.5 878.4L1051.4 877.5L1052.5 877.5ZM1051.7 880.1L1051.2 879.8L1051.3 879.5L1051.6 879.3L1051.9 879.3L1052.0 879.8ZM1056.8 877.6L1056.5 877.7L1056.2 877.6L1056.0 877.3L1056.3 876.9L1056.6 877.2ZM1053.5 884.6L1051.2 885.8M1050 886.4L1047.6 887.7M1046.6 888.2L1044.6 889.2M1007.6 890.3L1009.6 890.3M1028 892L1029 892M874.0 753.2L873.0 753.1L873.0 752.4L873.4 751.7L874.2 752.2ZM875.3 755.9L875.2 757.0L873.8 757.4L874.1 756.0ZM873.7 746.2L874.0 746.8L873.4 747.1L872.6 747.2L872.5 746.4L873.2 745.8ZM875.0 753.9L875.4 755.2L874.3 755.8L873.7 754.5ZM871.0 752.1L869.7 752.6L868.5 752.0L868.9 751.0L870.4 750.4ZM871.2 757.3L870.2 756.3L871.7 755.4L872.3 756.8ZM874.8 748.8L875.8 749.2L875.4 750.3L874.6 749.8ZM874.7 749.9L874.1 750.8L873.4 750.0L874.0 749.2ZM871.7 750.7L871.1 749.0L872.5 748.1L873.2 750.0ZM869.1 750.2L868.7 749.1L869.8 748.9L869.8 749.7ZM868.3 749.8L869.4 749.1L870.5 749.2L870.4 750.7L869.2 751.0ZM869.1 752.6L868.1 752.1L868.2 751.1L868.9 750.4L869.8 751.1L869.9 751.9ZM872.1 756.3L872.3 757.6L870.9 757.6L871.0 756.6ZM870.5 747.9L871.4 748.3L871.3 749.3L870.5 749.3L869.6 749.0L869.6 748.2ZM860.8 751.2L862.0 751.8L861.8 753.3L859.9 752.9ZM859.4 752.2L859.4 751.6L860.2 751.3L860.5 752.2L859.9 752.6ZM862.3 752.5L862.2 751.4L863.2 750.7L864.4 751.9L863.4 752.6ZM859.8 749.3L859.2 750.0L858.7 749.9L858.5 749.1L858.7 748.7L859.6 748.7ZM859.9 751.4L859.8 750.9L860.5 750.7L860.7 751.2L860.4 751.5ZM861.8 753.6L862.0 752.5L862.8 752.3L863.6 753.5L862.6 754.1ZM861.5 749.5L862.3 748.7L862.8 749.6L862.2 750.1ZM862.7 749.6L861.6 749.7L860.7 749.5L861.1 748.3L861.8 748.0L862.7 748.6ZM872.9 770.6L873.0 769.7L873.7 769.9L873.8 770.6ZM879.0 773.3L879.2 774.2L878.7 775.2L877.4 774.5L877.7 773.5ZM878.1 772.3L878.9 771.7L879.7 772.3L878.9 773.5ZM877.4 769.8L878.7 769.8L878.6 770.7L877.8 770.9ZM872.1 773.8L872.7 773.6L873.0 774.0L873.5 774.5L872.6 774.8L872.0 774.7ZM880.0 772.8L880.1 773.2L879.8 773.6L878.9 773.3L879.1 772.9ZM871.6 770.7L871.7 769.3L872.5 768.9L873.3 769.3L873.1 770.7ZM872.8 772.8L873.5 772.7L873.8 773.1L873.5 773.7L872.8 773.4ZM854.9 773.2L854.6 772.1L855.6 771.5L856.3 771.7L856.9 772.4L856.0 773.5ZM852.1 771.8L852.2 772.2L851.9 772.6L851.4 772.4L851.5 772.0L851.7 771.6ZM854.4 773.4L853.2 773.2L853.6 772.1L854.8 772.0ZM854.5 774.1L853.8 772.9L854.9 772.1L855.9 772.6L855.7 773.6ZM851.7 770.8L851.1 770.9L850.8 770.2L851.7 769.7ZM850.7 771.8L851.3 771.3L851.8 771.4L852.0 772.0L851.8 772.4L850.9 772.5ZM848.7 770.0L849.8 770.0L850.9 770.6L850.5 771.5L849.4 771.9L848.8 771.2ZM835.3 769.8L834.6 770.4L833.8 770.0L834.3 769.2ZM834.1 770.9L834.8 770.4L835.8 771.0L835.3 771.9L834.4 772.0ZM833.3 771.2L832.9 770.1L834.2 769.8L834.5 771.0ZM833.2 766.8L833.2 765.1L834.1 764.4L835.4 765.5L834.4 766.8ZM834.5 766.9L835.0 767.3L835.2 768.0L834.2 769.1L833.6 768.2L833.4 767.0ZM832.6 766.2L833.3 766.2L833.9 766.6L833.5 767.5L832.9 767.1L832.6 766.9ZM819.2 757.9L819.2 758.5L818.6 758.7L818.0 758.2L818.5 757.5ZM816.1 758.6L816.8 758.1L817.2 759.1L816.3 759.5ZM821.0 760.7L820.6 761.4L819.6 761.2L820.2 760.1ZM817.2 760.1L816.1 760.4L815.1 759.0L816.4 758.5L817.6 758.8ZM817.1 758.3L817.6 758.5L817.8 758.9L817.6 759.3L817.0 759.5L816.6 758.8ZM819.5 757.0L820.0 757.9L819.0 758.6L818.4 757.4ZM756.0 757.2L755.2 757.5L754.7 756.9L755.5 756.1ZM757.6 759.4L758.2 759.9L758.5 761.0L757.7 761.9L756.7 761.1L756.5 760.2ZM757.4 756.8L756.8 756.2L756.7 755.3L757.9 754.8L758.2 755.5L758.4 756.4ZM757.5 754.9L757.9 755.4L757.5 756.0L757.1 755.4ZM757.6 757.5L756.9 756.8L757.8 756.2L758.6 756.6L758.7 757.2L758.3 757.7ZM757.5 754.7L758.9 754.8L758.9 756.3L757.6 756.0ZM712.5 796.3L713.0 795.3L713.7 795.3L714.2 795.9L713.9 796.6L713.3 796.6ZM711.9 796.0L711.3 795.4L711.6 794.3L712.4 794.5L712.8 795.4ZM711.1 796.5L710.7 795.6L711.0 795.1L711.9 795.0L712.1 795.6L712.0 796.3ZM711.1 795.9L710.3 795.1L710.9 794.5L711.4 794.9ZM715.1 795.9L713.8 796.0L713.9 795.0L714.9 794.8ZM714.5 796.6L714.2 796.4L714.2 795.8L714.8 795.9L715.0 796.2L715.0 796.8ZM702.7 822.0L703.1 823.1L702.1 823.8L701.1 822.8L701.9 821.7ZM703.2 822.4L702.6 822.1L702.3 821.9L702.4 821.2L702.9 821.4L703.6 821.7ZM704.3 822.6L704.0 822.0L704.3 821.4L704.8 821.9ZM703.7 821.0L704.2 820.6L704.9 820.7L705.0 821.2L704.5 821.6L703.8 821.6ZM845.2 311.5L844.6 310.7L845.6 310.0L846.8 310.5L846.5 311.5ZM843.2 308.1L844.1 306.7L845.8 307.6L844.7 308.7ZM845.5 308.6L845.3 309.3L844.2 309.7L843.5 308.5L844.9 307.6ZM844.1 310.8L844.9 310.3L845.6 311.4L844.7 312.2L843.8 311.7ZM845.5 309.2L845.0 308.4L846.1 308.0L846.9 308.3L846.5 309.4ZM843.5 309.9L842.9 309.1L842.8 308.4L843.8 308.1L844.8 308.6L844.7 309.5ZM846.8 310.8L846.3 309.7L846.8 308.9L848.3 308.8L847.9 310.2ZM845.2 307.4L845.7 307.8L846.0 308.4L845.3 308.5L844.5 308.6L844.6 307.8ZM845.5 309.4L846.5 308.8L847.2 309.6L846.7 310.6L845.9 310.5L845.1 309.9ZM946.6 352.3L947.2 353.1L946.7 353.7L946.0 353.2ZM946.6 351.3L946.9 351.0L947.3 350.9L947.4 351.6L946.9 351.8ZM949.9 353.4L949.2 353.1L949.8 352.6L950.4 352.6L950.5 353.2ZM946.6 355.1L946.4 354.6L946.8 354.1L947.2 354.4L947.3 354.8L947.1 355.0ZM947.5 353.6L948.7 353.7L949.1 354.5L947.8 354.8ZM941.2 363.7L940.6 364.1L940.1 363.2L940.5 362.6L941.2 362.7ZM940.9 362.1L941.5 361.7L942.3 361.5L942.6 362.2L942.3 363.0L941.7 362.5ZM941.4 362.4L942.0 362.3L942.1 362.8L941.9 363.3L941.5 362.9ZM985.1 342.1L983.7 342.7L983.6 341.2L984.7 340.9ZM984.7 342.2L984.2 341.0L985.6 341.0L985.8 342.6ZM988.6 339.6L987.9 340.1L986.9 340.0L986.5 339.4L987.1 338.9L988.1 339.0ZM985.1 341.3L986.1 341.6L985.9 342.5L985.1 342.3ZM992.9 341.0L992.3 341.2L991.7 340.9L992.1 340.2L992.8 340.4ZM984.8 341.1L986.1 340.6L987.3 341.1L986.7 342.2L985.3 341.9ZM987.6 341.2L987.5 340.7L988.3 340.5L988.7 340.7L988.9 341.1L988.3 341.5ZM552.6 496.9L551.6 496.9L551.7 496.2L552.2 495.3L553.0 495.7L552.9 496.4ZM551.7 494.9L552.5 495.3L552.5 496.1L551.4 495.8ZM551.4 500.0L552.1 500.2L551.8 501.2L551.2 500.8ZM552.7 498.2L552.5 497.6L553.4 497.2L553.7 498.1ZM550.6 498.9L551.6 498.1L552.6 498.7L552.8 499.8L551.6 500.1L550.9 499.5ZM549.7 497.0L548.4 496.9L548.4 495.9L550.1 495.7ZM1146.6 388.9L1145.9 389.5L1145.5 388.8L1145.3 388.1L1146.2 387.9L1146.5 388.3ZM1145.4 389.0L1145.3 389.4L1145.0 389.6L1144.5 389.3L1144.9 388.9ZM1146.7 391.1L1145.7 390.8L1145.9 389.4L1147.3 390.1ZM1146.4 388.2L1147.1 388.4L1147.4 389.1L1146.6 389.4L1145.8 389.4L1145.9 388.5ZM1144.8 390.0L1143.6 390.4L1142.8 389.8L1142.6 388.9L1143.8 388.3L1144.9 388.8ZM1006.7 456.7L1007.5 457.3L1006.6 457.8L1005.5 457.5L1005.5 456.8ZM1007.0 457.0L1008.0 456.1L1008.7 457.0L1008.0 457.5ZM1008.0 459.1L1007.4 459.0L1007.3 458.3L1008.0 457.6L1008.4 458.3L1008.6 458.9ZM1009.2 459.8L1008.2 460.1L1008.0 459.2L1008.6 458.6L1009.3 459.1ZM1008.9 457.0L1009.0 457.8L1009.0 458.7L1008.0 458.2L1007.4 457.7L1008.1 457.3ZM152.5 316.0L152.5 318.6L153.5 321.0L153.9 323.6L152.8 326.0L154.2 327.8L154.0 330.0M155.0 317.0L154.8 319.6L156.0 322.0L156.0 324.6L155.2 327.0M1263.8 409.9L1265.3 408.3L1264.5 405.7L1266.1 404.1L1267.7 403.1L1267.7 400.7L1269.9 400.1L1270.7 398.3L1272.5 397.8L1273.4 395.9L1275.3 395.5L1277.6 394.4L1278.8 392.0L1280.4 391.3L1282.2 391.4L1283.3 389.1L1285.7 388.0L1287.9 387.3L1290.3 387.4L1292.0 386.7L1292.6 384.7L1294.3 383.9L1294.9 381.8L1297.0 380.7L1297.8 378.8L1298.6 381.0L1300.7 382.2L1302.3 381.1L1303.2 379.6L1303.5 377.6L1305.3 379.1L1306.4 381.1L1307.8 379.0L1309.9 377.6L1311.7 379.1L1313.9 379.9L1315.5 378.0L1317.9 377.6L1320.2 378.5L1322.5 378.2L1323.8 376.7L1325.9 376.6L1327.2 375.3L1329.3 373.9L1331.8 373.6L1334.1 372.5L1335.8 370.7L1337.9 369.3L1339.3 367.2M1270.8 401.0L1272.4 399.7L1274.6 400.0L1276.3 398.8L1276.9 396.8L1279.0 395.8L1279.7 393.8L1282.9 392.9L1284.0 391.3L1285.7 390.5L1287.5 390.3L1289.2 391.1L1291.1 390.9L1291.7 388.9L1294.2 388.3L1294.8 386.3L1295.5 383.8L1297.3 382.0L1298.9 383.2L1299.9 384.9L1301.9 383.9L1303.4 382.3L1304.6 380.6L1305.0 382.9L1306.7 384.5L1307.5 382.3L1309.8 381.3L1310.7 379.2L1313.2 379.7L1315.1 381.4L1317.6 381.0L1319.7 380.4L1322.0 380.7L1323.2 379.2L1324.9 378.7L1327.1 379.2L1328.3 377.7L1330.4 377.2L1331.6 375.5L1333.2 374.4L1335.5 374.8L1337.0 373.3M1221.4 466.6L1223.5 465.5L1225.8 465.0L1228.1 464.8L1230.1 463.4L1231.6 462.4L1233.3 462.3L1235.0 462.8L1235.8 464.9L1237.7 465.0L1235.3 465.1L1233.3 466.3L1231.5 468.0L1229.0 468.0L1227.1 469.4L1224.7 469.3M1126.3 529.8L1126.7 531.7L1128.9 532.2L1130.0 533.6L1130.5 535.4L1131.6 536.9L1133.8 536.9L1134.3 539.0L1136.1 539.6L1137.6 540.8L1139.8 540.3L1141.5 541.2L1143.1 542.4L1144.9 544.2L1145.9 546.5M1124.9 528.4L1126.4 529.3L1127.1 531.1L1129.1 531.5L1129.8 533.3L1131.6 534.0L1132.4 535.9L1134.5 536.1L1135.4 537.9L1137.4 537.8L1138.4 540.0L1140.5 539.5L1142.0 540.7L1143.6 542.5L1145.6 543.8M1133.3 545.2L1134.4 546.9L1136.4 547.7L1137.1 549.7L1138.9 550.7L1140.6 551.8L1141.4 553.8L1143.6 554.5L1144.5 556.3L1145.9 559.1M1134.7 547.9L1136.5 548.8L1137.6 550.4L1138.7 551.9L1139.6 553.5L1141.5 554.7L1142.9 556.3L1143.8 558.4M1131.9 564.7L1133.6 565.9L1135.9 564.8L1137.5 566.1L1139.7 566.4L1141.5 567.4L1143.1 568.9L1145.0 569.8L1145.9 571.7M1133.3 562.6L1134.6 564.0L1136.8 563.1L1138.2 564.4L1140.3 564.6L1141.7 566.5L1143.8 566.8M1140.7 510.4L1140.8 512.6L1141.8 514.4L1143.4 515.8L1143.9 518.1L1142.1 520.1L1142.3 522.3L1143.8 523.9L1144.4 525.8L1143.7 528.3L1145.0 529.9L1144.4 531.8L1145.3 533.8L1145.0 535.7L1143.9 537.5L1145.0 539.0L1145.7 540.6L1146.8 542.1L1146.6 544.0L1145.4 546.0L1146.6 548.5L1145.5 550.5L1145.7 552.5L1145.9 554.5L1147.6 556.1L1147.7 558.1M1149.3 505.0L1149.4 506.8L1147.9 508.1L1148.3 510.1L1147.2 511.5L1146.9 513.4L1148.7 514.6L1148.2 516.6L1149.3 518.0L1148.4 519.8L1147.8 521.6L1148.8 523.8L1147.7 525.6L1147.6 527.8L1149.5 529.2L1149.3 531.4L1150.4 533.2L1150.5 535.1L1149.4 536.9L1150.3 539.0L1149.3 540.8L1150.5 542.5L1151.5 544.3L1151.8 546.3L1152.0 548.3M1145.0 509.3L1145.1 511.6L1145.7 513.8L1146.6 515.8L1145.8 517.7L1146.9 519.8L1145.2 521.4L1145.5 523.4L1145.2 525.4L1147.0 526.8L1146.3 528.7L1147.7 530.3L1147.7 532.1L1147.1 533.8L1148.4 535.6L1146.8 537.3L1147.9 539.1L1147.2 540.8L1147.2 542.6L1148.9 544.0L1147.7 546.2L1149.6 547.5L1149.3 549.4L1148.5 551.3L1149.8 553.3L1149.4 555.1L1148.8 557.0M1136.8 589.9L1136.4 591.7L1137.5 593.3L1136.8 595.2L1137.5 596.8L1139.4 597.2L1141.2 596.1L1143.1 597.3L1144.9 595.5L1146.9 597.1L1148.7 596.1L1150.8 594.7L1152.2 592.7L1153.5 590.8L1155.7 589.9M1143.1 590.6L1144.6 592.1L1145.2 594.1L1145.9 592.4L1147.3 591.3L1147.8 593.1L1149.4 594.1L1150.1 592.1L1151.5 590.6M1151.5 598.2L1152.1 600.1L1150.8 602.0L1151.5 603.8L1153.8 603.9L1155.7 605.2L1155.4 603.2L1157.1 601.6L1157.1 599.6L1157.1 597.6L1155.7 596.1M1127.7 606.6L1129.1 608.1L1131.3 607.9L1132.5 609.7L1134.8 609.2L1136.1 610.8L1138.0 610.5L1139.5 612.2L1141.5 611.0L1143.1 612.2L1144.6 610.9L1146.9 611.6L1148.1 609.6L1150.1 609.4L1150.5 607.5L1152.9 607.1L1153.1 605.0L1154.0 603.4L1155.7 602.4M1138.2 608.7L1138.9 610.7L1140.3 612.2L1140.0 614.4L1138.9 616.4M1130.5 619.2L1131.6 620.8L1133.6 621.2L1134.7 622.7L1136.5 621.0L1138.9 620.6L1139.9 618.2L1141.7 616.4L1143.2 617.5L1143.4 619.5L1145.5 620.1L1145.9 622.0L1143.9 623.7L1143.1 626.2L1141.3 628.0L1140.3 630.4M1154.3 582.9L1155.5 584.5L1154.9 586.8L1156.7 588.3L1156.1 590.5L1156.5 592.4L1157.8 594.1L1157.7 596.1L1158.2 598.0L1160.3 599.4L1159.3 601.8L1161.5 603.1L1161.3 605.2L1160.9 607.1L1162.2 608.8L1160.8 610.7L1162.4 612.4L1162.0 614.3M1044.0 706.0L1044.4 708.1L1043.1 709.9L1042.8 711.9L1043.0 714.0L1043.2 716.1L1041.9 717.9L1042.4 720.1L1041.5 722.0L1040.3 723.8L1040.1 725.9L1041.1 728.1L1040.0 730.0M884.0 749.0L885.2 750.8L885.2 753.0L885.2 755.1L884.3 757.0M760.3 768.2L759.2 770.0L756.8 770.3L756.1 772.5L753.6 772.7L752.7 774.7L751.8 776.5L750.3 777.6L748.0 777.8L747.3 779.8L745.2 780.2L744.0 781.7L742.1 782.1L741.4 784.1L739.4 784.3L737.7 785.0L737.1 787.1L735.3 787.7L734.2 789.2L732.0 789.3L730.5 790.3L730.0 792.5L728.5 793.6L726.7 794.2L725.6 796.2L723.0 796.4L721.4 797.8L720.2 799.6L719.4 801.7L717.1 802.5L716.8 805.0L714.8 806.1M709.3 815.8L708.6 817.6L709.3 819.6L707.7 821.1L708.8 823.2L707.2 824.8L707.4 826.7L706.9 828.4L707.5 830.2L706.1 831.8L707.3 833.7L706.6 835.3L707.8 836.9L706.9 838.9L707.2 840.7L708.9 842.2L708.8 844.0L708.7 845.9L709.2 847.6L710.5 849.1L710.0 851.1L711.0 852.7M905.0 372.0L906.7 370.8L906.7 368.3L909.3 367.7L910.5 366.1L911.0 364.0L912.6 363.0L913.9 361.7L914.3 359.6L916.3 358.9L917.0 357.0L917.8 355.3L919.1 354.1L920.9 353.4L921.0 351.1L923.5 350.9L924.0 349.0L925.0 347.2L926.3 345.7L928.6 345.2L929.3 343.1L931.0 342.0" fill="none" stroke="#2f3a52" stroke-width="0.95"/>
</g>

<g id="icon">
<defs>
<linearGradient id="sky" x1="0" y1="0" x2="0" y2="1"><stop offset="0" stop-color="#9ecbf0"/><stop offset="0.75" stop-color="#cfe3f6"/></linearGradient>
<linearGradient id="gnd" x1="0" y1="0" x2="0" y2="1"><stop offset="0" stop-color="#f3a468"/><stop offset="1" stop-color="#f8c596"/></linearGradient>
<clipPath id="cc"><circle cx="1320.5" cy="154" r="62.5"/></clipPath>
</defs>
<circle cx="1320.5" cy="154" r="70.5" fill="#fff"/>
<circle cx="1320.5" cy="154" r="62.5" fill="url(#sky)"/>
<rect x="1250" y="191.6" width="140" height="30" fill="url(#gnd)" clip-path="url(#cc)"/>
<line x1="1271" y1="191.6" x2="1370" y2="191.6" stroke="#1d2b44" stroke-width="1.2"/>
<!-- car -->
<path d="M1273.5 167.5 Q1273.5 166 1275.5 166 L1282.5 166 L1293 155.2 Q1294.5 153.8 1297 153.8 L1324 153.6 Q1327 153.6 1329.5 155 L1343 165.6 L1363 165.8 Q1366.5 166 1366.5 169.5 L1366.5 181 Q1366.5 183.6 1364 183.6 L1276 183.6 Q1273.5 183.6 1273.5 181 Z" fill="#fff" stroke="#1d2b44" stroke-width="1.2" stroke-linejoin="round"/>
<rect x="1276" y="179.3" width="88" height="3.8" fill="#e3e5ea"/>
<path d="M1291 166 L1298.6 158.8 L1298.6 166 Z M1300.6 158.8 L1319 158.8 L1319 166 L1300.6 166 Z M1321.3 158.8 L1332.5 158.8 L1340 166 L1321.3 166 Z" fill="#6db6e9"/>
<path d="M1274.4 170.3 h4 q0.6 3 -2 4.6 h-2 z" fill="#ee4d5a"/>
<path d="M1365.8 170 h-3.6 q-1 0 -0.6 1.2 q0.8 2.6 4.2 2.8 z" fill="#f3a660"/>
<circle cx="1290.9" cy="183.8" r="8.2" fill="#3b4559"/><circle cx="1290.9" cy="183.8" r="4.4" fill="#a9aab6"/>
<circle cx="1348.8" cy="183.8" r="8.2" fill="#3b4559"/><circle cx="1348.8" cy="183.8" r="4.4" fill="#a9aab6"/>
<!-- bubble -->
<path d="M1264.5 95.3 H1376 Q1379 95.3 1379 98.3 V135 Q1379 138 1376 138 H1328.6 L1320 146.4 L1311.4 138 H1264.5 Q1261.5 138 1261.5 135 V98.3 Q1261.5 95.3 1264.5 95.3 Z" fill="#fff" stroke="#1d2b44" stroke-width="1.1" stroke-linejoin="round"/>
<circle cx="1282.8" cy="116.8" r="17" fill="#f3a660"/>
<path d="M1286.8 104.5 L1275 119 L1281.6 119 L1279 129.6 L1291.2 114.4 L1284.2 114.4 Z" fill="#fff"/>
<rect x="1302.8" y="99.4" width="72" height="34.8" rx="17.4" fill="#0978b6"/>
<text x="1339" y="127.2" text-anchor="middle" font-family="Liberation Sans, Arial, sans-serif" font-weight="700" font-size="30" letter-spacing="2.5" fill="#fff">$$</text>
</g>
<g id="legend"><line x1="236" y1="991.5" x2="1244" y2="991.5" stroke="#3b4559" stroke-width="1.4"/><path d="M221.5 991.5 L239.5 985.1 L239.5 997.9 Z" fill="#3b4559"/><path d="M1258.5 991.5 L1240.5 985.1 L1240.5 997.9 Z" fill="#3b4559"/><circle cx="324" cy="991.5" r="20" fill="#fdf8d2" stroke="#3b4559" stroke-width="1.4"/><circle cx="490" cy="991.5" r="20" fill="#fbe191" stroke="#3b4559" stroke-width="1.4"/><circle cx="656" cy="991.5" r="20" fill="#f1a752" stroke="#3b4559" stroke-width="1.4"/><circle cx="822" cy="991.5" r="20" fill="#ea673e" stroke="#3b4559" stroke-width="1.4"/><circle cx="988" cy="991.5" r="20" fill="#c43130" stroke="#3b4559" stroke-width="1.4"/><circle cx="1154" cy="991.5" r="20" fill="#75142a" stroke="#3b4559" stroke-width="1.4"/></g>
</svg>
</body></html>
